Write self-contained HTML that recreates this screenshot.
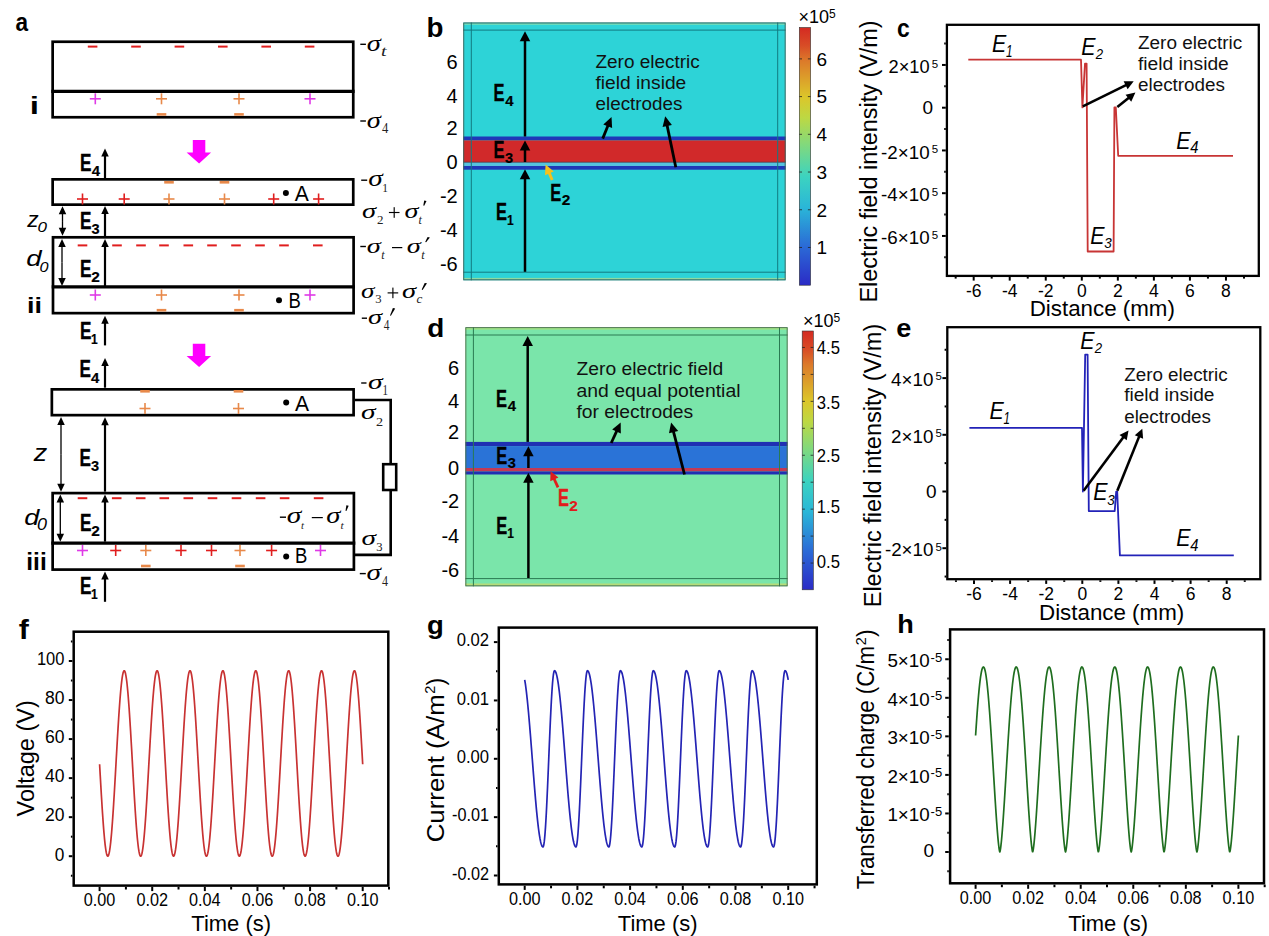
<!DOCTYPE html>
<html><head><meta charset="utf-8"><style>
html,body{margin:0;padding:0;background:#fff;width:1269px;height:936px;overflow:hidden}
svg{display:block}
</style></head><body>
<svg width="1269" height="936" viewBox="0 0 1269 936">
<rect width="1269" height="936" fill="#fff"/>
<text transform="translate(15.42,31.25) scale(0.889,1)" font-family="'Liberation Sans', sans-serif" font-style="normal" font-weight="bold" font-size="25.45" fill="#000">a</text>
<rect x="52.65" y="41.75" width="300.60" height="75.50" fill="none" stroke="#000" stroke-width="2.7"/>
<line x1="51.30" y1="91.35" x2="354.60" y2="91.35" stroke="#000" stroke-width="3.105" stroke-linecap="butt"/>
<rect x="87.80" y="45.60" width="9.60" height="2.00" fill="#e01e1e"/>
<rect x="131.20" y="45.60" width="9.60" height="2.00" fill="#e01e1e"/>
<rect x="174.60" y="45.60" width="9.60" height="2.00" fill="#e01e1e"/>
<rect x="218.00" y="45.60" width="9.60" height="2.00" fill="#e01e1e"/>
<rect x="261.40" y="45.60" width="9.60" height="2.00" fill="#e01e1e"/>
<rect x="304.80" y="45.60" width="9.60" height="2.00" fill="#e01e1e"/>
<rect x="89.80" y="98.00" width="11.00" height="1.60" fill="#df3ae6"/>
<rect x="94.50" y="93.30" width="1.60" height="11.00" fill="#df3ae6"/>
<rect x="156.00" y="98.00" width="11.00" height="1.60" fill="#e8894a"/>
<rect x="160.70" y="93.30" width="1.60" height="11.00" fill="#e8894a"/>
<rect x="233.50" y="98.00" width="11.00" height="1.60" fill="#e8894a"/>
<rect x="238.20" y="93.30" width="1.60" height="11.00" fill="#e8894a"/>
<rect x="304.50" y="98.00" width="11.00" height="1.60" fill="#df3ae6"/>
<rect x="309.20" y="93.30" width="1.60" height="11.00" fill="#df3ae6"/>
<rect x="156.70" y="113.10" width="9.60" height="2.60" fill="#e8894a"/>
<rect x="234.20" y="113.10" width="9.60" height="2.60" fill="#e8894a"/>
<text transform="translate(29.67,113.80) scale(1.438,1)" font-family="'Liberation Sans', sans-serif" font-style="normal" font-weight="bold" font-size="23.17" fill="#000">i</text>
<rect x="52.65" y="179.35" width="300.60" height="25.30" fill="none" stroke="#000" stroke-width="2.7"/>
<rect x="164.20" y="181.00" width="9.60" height="2.60" fill="#e8894a"/>
<rect x="219.70" y="181.00" width="9.60" height="2.60" fill="#e8894a"/>
<rect x="77.00" y="198.20" width="11.00" height="1.60" fill="#e01e1e"/>
<rect x="81.70" y="193.50" width="1.60" height="11.00" fill="#e01e1e"/>
<rect x="118.70" y="198.20" width="11.00" height="1.60" fill="#e01e1e"/>
<rect x="123.40" y="193.50" width="1.60" height="11.00" fill="#e01e1e"/>
<rect x="163.50" y="198.20" width="11.00" height="1.60" fill="#e8894a"/>
<rect x="168.20" y="193.50" width="1.60" height="11.00" fill="#e8894a"/>
<rect x="219.00" y="198.20" width="11.00" height="1.60" fill="#e8894a"/>
<rect x="223.70" y="193.50" width="1.60" height="11.00" fill="#e8894a"/>
<rect x="268.20" y="198.20" width="11.00" height="1.60" fill="#e01e1e"/>
<rect x="272.90" y="193.50" width="1.60" height="11.00" fill="#e01e1e"/>
<rect x="313.10" y="198.20" width="11.00" height="1.60" fill="#e01e1e"/>
<rect x="317.80" y="193.50" width="1.60" height="11.00" fill="#e01e1e"/>
<circle cx="285.9" cy="192.9" r="3" fill="#000"/>
<text transform="translate(294.79,200.80) scale(0.919,1)" font-family="'Liberation Sans', sans-serif" font-style="normal" font-weight="normal" font-size="22.92" fill="#000">A</text>
<rect x="53.00" y="237.30" width="300.60" height="75.85" fill="none" stroke="#000" stroke-width="2.7"/>
<line x1="51.70" y1="286.90" x2="355.00" y2="286.90" stroke="#000" stroke-width="3.105" stroke-linecap="butt"/>
<rect x="77.70" y="244.40" width="9.60" height="2.00" fill="#e01e1e"/>
<rect x="112.20" y="244.40" width="9.60" height="2.00" fill="#e01e1e"/>
<rect x="136.20" y="244.40" width="9.60" height="2.00" fill="#e01e1e"/>
<rect x="159.20" y="244.40" width="9.60" height="2.00" fill="#e01e1e"/>
<rect x="183.50" y="244.40" width="9.60" height="2.00" fill="#e01e1e"/>
<rect x="207.20" y="244.40" width="9.60" height="2.00" fill="#e01e1e"/>
<rect x="231.20" y="244.40" width="9.60" height="2.00" fill="#e01e1e"/>
<rect x="255.20" y="244.40" width="9.60" height="2.00" fill="#e01e1e"/>
<rect x="279.20" y="244.40" width="9.60" height="2.00" fill="#e01e1e"/>
<rect x="313.00" y="244.40" width="9.60" height="2.00" fill="#e01e1e"/>
<rect x="89.80" y="294.20" width="11.00" height="1.60" fill="#df3ae6"/>
<rect x="94.50" y="289.50" width="1.60" height="11.00" fill="#df3ae6"/>
<rect x="156.00" y="294.20" width="11.00" height="1.60" fill="#e8894a"/>
<rect x="160.70" y="289.50" width="1.60" height="11.00" fill="#e8894a"/>
<rect x="233.50" y="294.20" width="11.00" height="1.60" fill="#e8894a"/>
<rect x="238.20" y="289.50" width="1.60" height="11.00" fill="#e8894a"/>
<rect x="304.50" y="294.20" width="11.00" height="1.60" fill="#df3ae6"/>
<rect x="309.20" y="289.50" width="1.60" height="11.00" fill="#df3ae6"/>
<rect x="156.70" y="308.90" width="9.60" height="2.60" fill="#e8894a"/>
<rect x="234.20" y="308.90" width="9.60" height="2.60" fill="#e8894a"/>
<circle cx="279" cy="300.2" r="3" fill="#000"/>
<text transform="translate(288.42,308.10) scale(0.813,1)" font-family="'Liberation Sans', sans-serif" font-style="normal" font-weight="normal" font-size="22.75" fill="#000">B</text>
<text transform="translate(26.91,312.50) scale(1.223,1)" font-family="'Liberation Sans', sans-serif" font-style="normal" font-weight="bold" font-size="22.07" fill="#000">ii</text>
<rect x="51.85" y="389.35" width="301.75" height="25.80" fill="none" stroke="#000" stroke-width="2.7"/>
<rect x="140.20" y="390.00" width="9.60" height="2.60" fill="#e8894a"/>
<rect x="233.70" y="390.00" width="9.60" height="2.60" fill="#e8894a"/>
<rect x="139.50" y="407.70" width="11.00" height="1.60" fill="#e8894a"/>
<rect x="144.20" y="403.00" width="1.60" height="11.00" fill="#e8894a"/>
<rect x="233.00" y="407.70" width="11.00" height="1.60" fill="#e8894a"/>
<rect x="237.70" y="403.00" width="1.60" height="11.00" fill="#e8894a"/>
<circle cx="286.2" cy="402.4" r="3" fill="#000"/>
<text transform="translate(295.09,411.00) scale(0.919,1)" font-family="'Liberation Sans', sans-serif" font-style="normal" font-weight="normal" font-size="22.92" fill="#000">A</text>
<rect x="52.65" y="493.10" width="301.25" height="76.50" fill="none" stroke="#000" stroke-width="2.7"/>
<line x1="51.30" y1="543.15" x2="355.30" y2="543.15" stroke="#000" stroke-width="3.105" stroke-linecap="butt"/>
<rect x="77.70" y="497.20" width="9.60" height="2.00" fill="#e01e1e"/>
<rect x="111.90" y="497.20" width="9.60" height="2.00" fill="#e01e1e"/>
<rect x="135.90" y="497.20" width="9.60" height="2.00" fill="#e01e1e"/>
<rect x="159.50" y="497.20" width="9.60" height="2.00" fill="#e01e1e"/>
<rect x="183.50" y="497.20" width="9.60" height="2.00" fill="#e01e1e"/>
<rect x="207.70" y="497.20" width="9.60" height="2.00" fill="#e01e1e"/>
<rect x="231.70" y="497.20" width="9.60" height="2.00" fill="#e01e1e"/>
<rect x="255.80" y="497.20" width="9.60" height="2.00" fill="#e01e1e"/>
<rect x="279.80" y="497.20" width="9.60" height="2.00" fill="#e01e1e"/>
<rect x="313.80" y="497.20" width="9.60" height="2.00" fill="#e01e1e"/>
<rect x="77.00" y="549.70" width="11.00" height="1.60" fill="#df3ae6"/>
<rect x="81.70" y="545.00" width="1.60" height="11.00" fill="#df3ae6"/>
<rect x="110.20" y="549.70" width="11.00" height="1.60" fill="#e01e1e"/>
<rect x="114.90" y="545.00" width="1.60" height="11.00" fill="#e01e1e"/>
<rect x="140.30" y="549.70" width="11.00" height="1.60" fill="#e8894a"/>
<rect x="145.00" y="545.00" width="1.60" height="11.00" fill="#e8894a"/>
<rect x="175.50" y="549.70" width="11.00" height="1.60" fill="#e01e1e"/>
<rect x="180.20" y="545.00" width="1.60" height="11.00" fill="#e01e1e"/>
<rect x="206.00" y="549.70" width="11.00" height="1.60" fill="#e01e1e"/>
<rect x="210.70" y="545.00" width="1.60" height="11.00" fill="#e01e1e"/>
<rect x="234.50" y="549.70" width="11.00" height="1.60" fill="#e8894a"/>
<rect x="239.20" y="545.00" width="1.60" height="11.00" fill="#e8894a"/>
<rect x="266.10" y="549.70" width="11.00" height="1.60" fill="#e01e1e"/>
<rect x="270.80" y="545.00" width="1.60" height="11.00" fill="#e01e1e"/>
<rect x="315.00" y="549.70" width="11.00" height="1.60" fill="#df3ae6"/>
<rect x="319.70" y="545.00" width="1.60" height="11.00" fill="#df3ae6"/>
<rect x="141.00" y="564.70" width="9.60" height="2.60" fill="#e8894a"/>
<rect x="235.20" y="564.70" width="9.60" height="2.60" fill="#e8894a"/>
<circle cx="286.2" cy="556.6" r="3" fill="#000"/>
<text transform="translate(295.02,562.70) scale(0.813,1)" font-family="'Liberation Sans', sans-serif" font-style="normal" font-weight="normal" font-size="22.75" fill="#000">B</text>
<text transform="translate(26.29,569.80) scale(1.056,1)" font-family="'Liberation Sans', sans-serif" font-style="normal" font-weight="bold" font-size="23.17" fill="#000">iii</text>
<polyline points="355,400 390.7,400 390.7,463" fill="none" stroke="#000" stroke-width="2.6"/>
<polyline points="390.7,491 390.7,554.9 355,554.9" fill="none" stroke="#000" stroke-width="2.6"/>
<rect x="383.20" y="464.20" width="13.00" height="25.80" fill="none" stroke="#000" stroke-width="2.6"/>
<polygon points="192.8,140.1 205.3,140.1 205.3,152.4 211.1,152.4 199.1,163.4 186.6,152.4 192.8,152.4" fill="#ff00ff"/>
<polygon points="192.8,343.7 205.3,343.7 205.3,356.0 211.1,356.0 199.1,367.0 186.6,356.0 192.8,356.0" fill="#ff00ff"/>
<line x1="105.00" y1="178.00" x2="105.00" y2="155.40" stroke="#000" stroke-width="2.2" stroke-linecap="butt"/>
<polygon points="105.00,148.40 108.75,156.40 101.25,156.40" fill="#000"/>
<line x1="105.00" y1="236.00" x2="105.00" y2="213.00" stroke="#000" stroke-width="2.2" stroke-linecap="butt"/>
<polygon points="105.00,206.00 108.75,214.00 101.25,214.00" fill="#000"/>
<line x1="105.00" y1="287.00" x2="105.00" y2="246.00" stroke="#000" stroke-width="2.2" stroke-linecap="butt"/>
<polygon points="105.00,239.00 108.75,247.00 101.25,247.00" fill="#000"/>
<line x1="105.00" y1="345.40" x2="105.00" y2="322.70" stroke="#000" stroke-width="2.2" stroke-linecap="butt"/>
<polygon points="105.00,315.70 108.75,323.70 101.25,323.70" fill="#000"/>
<line x1="105.00" y1="387.70" x2="105.00" y2="365.00" stroke="#000" stroke-width="2.2" stroke-linecap="butt"/>
<polygon points="105.00,358.00 108.75,366.00 101.25,366.00" fill="#000"/>
<line x1="105.00" y1="491.70" x2="105.00" y2="424.30" stroke="#000" stroke-width="2.2" stroke-linecap="butt"/>
<polygon points="105.00,417.30 108.75,425.30 101.25,425.30" fill="#000"/>
<line x1="105.00" y1="541.70" x2="105.00" y2="501.50" stroke="#000" stroke-width="2.2" stroke-linecap="butt"/>
<polygon points="105.00,494.50 108.75,502.50 101.25,502.50" fill="#000"/>
<line x1="105.00" y1="601.80" x2="105.00" y2="578.40" stroke="#000" stroke-width="2.2" stroke-linecap="butt"/>
<polygon points="105.00,571.40 108.75,579.40 101.25,579.40" fill="#000"/>
<text transform="translate(80.08,170.80) scale(0.718,1)" font-family="'Liberation Sans', sans-serif" font-style="normal" font-weight="bold" font-size="23.91" fill="#000" stroke="#000" stroke-width="0.35">E</text>
<text transform="translate(91.78,176.00) scale(1.002,1)" font-family="'Liberation Sans', sans-serif" font-style="normal" font-weight="bold" font-size="14.93" fill="#000" stroke="#000" stroke-width="0.2">4</text>
<text transform="translate(79.88,229.40) scale(0.718,1)" font-family="'Liberation Sans', sans-serif" font-style="normal" font-weight="bold" font-size="23.91" fill="#000" stroke="#000" stroke-width="0.35">E</text>
<text transform="translate(91.44,234.45) scale(1.003,1)" font-family="'Liberation Sans', sans-serif" font-style="normal" font-weight="bold" font-size="14.51" fill="#000" stroke="#000" stroke-width="0.2">3</text>
<text transform="translate(79.88,276.50) scale(0.718,1)" font-family="'Liberation Sans', sans-serif" font-style="normal" font-weight="bold" font-size="23.91" fill="#000" stroke="#000" stroke-width="0.35">E</text>
<text transform="translate(91.26,281.70) scale(1.048,1)" font-family="'Liberation Sans', sans-serif" font-style="normal" font-weight="bold" font-size="14.71" fill="#000" stroke="#000" stroke-width="0.2">2</text>
<text transform="translate(79.88,339.00) scale(0.718,1)" font-family="'Liberation Sans', sans-serif" font-style="normal" font-weight="bold" font-size="23.91" fill="#000" stroke="#000" stroke-width="0.35">E</text>
<text transform="translate(91.02,344.20) scale(0.807,1)" font-family="'Liberation Sans', sans-serif" font-style="normal" font-weight="bold" font-size="14.93" fill="#000" stroke="#000" stroke-width="0.2">1</text>
<text transform="translate(79.38,377.30) scale(0.718,1)" font-family="'Liberation Sans', sans-serif" font-style="normal" font-weight="bold" font-size="23.91" fill="#000" stroke="#000" stroke-width="0.35">E</text>
<text transform="translate(91.08,382.50) scale(1.002,1)" font-family="'Liberation Sans', sans-serif" font-style="normal" font-weight="bold" font-size="14.93" fill="#000" stroke="#000" stroke-width="0.2">4</text>
<text transform="translate(79.38,466.00) scale(0.718,1)" font-family="'Liberation Sans', sans-serif" font-style="normal" font-weight="bold" font-size="23.91" fill="#000" stroke="#000" stroke-width="0.35">E</text>
<text transform="translate(90.94,471.05) scale(1.003,1)" font-family="'Liberation Sans', sans-serif" font-style="normal" font-weight="bold" font-size="14.51" fill="#000" stroke="#000" stroke-width="0.2">3</text>
<text transform="translate(79.88,530.50) scale(0.718,1)" font-family="'Liberation Sans', sans-serif" font-style="normal" font-weight="bold" font-size="23.91" fill="#000" stroke="#000" stroke-width="0.35">E</text>
<text transform="translate(91.26,535.70) scale(1.048,1)" font-family="'Liberation Sans', sans-serif" font-style="normal" font-weight="bold" font-size="14.71" fill="#000" stroke="#000" stroke-width="0.2">2</text>
<text transform="translate(79.88,593.80) scale(0.718,1)" font-family="'Liberation Sans', sans-serif" font-style="normal" font-weight="bold" font-size="23.91" fill="#000" stroke="#000" stroke-width="0.35">E</text>
<text transform="translate(91.02,599.00) scale(0.807,1)" font-family="'Liberation Sans', sans-serif" font-style="normal" font-weight="bold" font-size="14.93" fill="#000" stroke="#000" stroke-width="0.2">1</text>
<line x1="62.50" y1="221.05" x2="62.50" y2="213.30" stroke="#000" stroke-width="1.3" stroke-linecap="butt"/>
<polygon points="62.50,206.30 66.25,214.30 58.75,214.30" fill="#000"/>
<line x1="62.50" y1="221.05" x2="62.50" y2="228.80" stroke="#000" stroke-width="1.3" stroke-linecap="butt"/>
<polygon points="62.50,235.80 58.75,227.80 66.25,227.80" fill="#000"/>
<line x1="62.00" y1="262.50" x2="62.00" y2="246.00" stroke="#000" stroke-width="1.3" stroke-linecap="butt"/>
<polygon points="62.00,239.00 65.75,247.00 58.25,247.00" fill="#000"/>
<line x1="62.00" y1="262.50" x2="62.00" y2="279.00" stroke="#000" stroke-width="1.3" stroke-linecap="butt"/>
<polygon points="62.00,286.00 58.25,278.00 65.75,278.00" fill="#000"/>
<line x1="61.00" y1="454.35" x2="61.00" y2="424.00" stroke="#000" stroke-width="1.3" stroke-linecap="butt"/>
<polygon points="61.00,417.00 64.75,425.00 57.25,425.00" fill="#000"/>
<line x1="61.00" y1="454.35" x2="61.00" y2="484.70" stroke="#000" stroke-width="1.3" stroke-linecap="butt"/>
<polygon points="61.00,491.70 57.25,483.70 64.75,483.70" fill="#000"/>
<line x1="60.30" y1="518.10" x2="60.30" y2="501.50" stroke="#000" stroke-width="1.3" stroke-linecap="butt"/>
<polygon points="60.30,494.50 64.05,502.50 56.55,502.50" fill="#000"/>
<line x1="60.30" y1="518.10" x2="60.30" y2="534.70" stroke="#000" stroke-width="1.3" stroke-linecap="butt"/>
<polygon points="60.30,541.70 56.55,533.70 64.05,533.70" fill="#000"/>
<text transform="translate(27.21,226.80) scale(1.044,1)" font-family="'Liberation Sans', sans-serif" font-style="italic" font-weight="normal" font-size="21.89" fill="#000">z</text>
<text transform="translate(37.53,231.55) scale(1.152,1)" font-family="'Liberation Sans', sans-serif" font-style="italic" font-weight="normal" font-size="14.79" fill="#000">0</text>
<text transform="translate(26.14,266.47) scale(1.242,1)" font-family="'Liberation Sans', sans-serif" font-style="italic" font-weight="normal" font-size="22.16" fill="#000">d</text>
<text transform="translate(39.47,271.55) scale(1.067,1)" font-family="'Liberation Sans', sans-serif" font-style="italic" font-weight="normal" font-size="15.21" fill="#000">0</text>
<text transform="translate(33.83,461.30) scale(1.170,1)" font-family="'Liberation Sans', sans-serif" font-style="italic" font-weight="normal" font-size="23.02" fill="#000">z</text>
<text transform="translate(24.16,525.36) scale(1.195,1)" font-family="'Liberation Sans', sans-serif" font-style="italic" font-weight="normal" font-size="22.57" fill="#000">d</text>
<text transform="translate(36.99,530.14) scale(1.142,1)" font-family="'Liberation Sans', sans-serif" font-style="italic" font-weight="normal" font-size="15.77" fill="#000">0</text>
<rect x="360.30" y="43.60" width="5.60" height="1.40" fill="#000"/>
<text transform="translate(366.75,50.98) scale(1.267,1)" font-family="'Liberation Serif', serif" font-style="italic" font-weight="normal" font-size="22.48" fill="#000">σ</text>
<text transform="translate(381.10,55.75) scale(1.373,1)" font-family="'Liberation Serif', serif" font-style="italic" font-weight="normal" font-size="14.56" fill="#222">t</text>
<rect x="360.30" y="120.30" width="5.60" height="1.40" fill="#000"/>
<text transform="translate(366.75,127.88) scale(1.278,1)" font-family="'Liberation Serif', serif" font-style="italic" font-weight="normal" font-size="22.29" fill="#000">σ</text>
<text transform="translate(382.05,133.47) scale(0.937,1)" font-family="'Liberation Serif', serif" font-style="normal" font-weight="normal" font-size="13.54" fill="#222">4</text>
<rect x="361.20" y="179.50" width="6.00" height="1.40" fill="#000"/>
<text transform="translate(368.32,185.78) scale(1.326,1)" font-family="'Liberation Serif', serif" font-style="italic" font-weight="normal" font-size="22.10" fill="#000">σ</text>
<text transform="translate(382.27,192.00) scale(0.891,1)" font-family="'Liberation Serif', serif" font-style="normal" font-weight="normal" font-size="12.82" fill="#222">1</text>
<text transform="translate(361.95,218.29) scale(1.335,1)" font-family="'Liberation Serif', serif" font-style="italic" font-weight="normal" font-size="21.33" fill="#000">σ</text>
<text transform="translate(377.12,224.00) scale(0.986,1)" font-family="'Liberation Serif', serif" font-style="normal" font-weight="normal" font-size="13.18" fill="#222">2</text>
<rect x="388.90" y="211.93" width="10.60" height="1.15" fill="#000"/>
<rect x="393.62" y="207.20" width="1.15" height="10.60" fill="#000"/>
<text transform="translate(404.45,218.29) scale(1.326,1)" font-family="'Liberation Serif', serif" font-style="italic" font-weight="normal" font-size="21.33" fill="#000">σ</text>
<text transform="translate(418.46,223.88) scale(0.977,1)" font-family="'Liberation Serif', serif" font-style="italic" font-weight="normal" font-size="12.28" fill="#222">t</text>
<polygon points="424.20,200.50 426.50,200.90 424.20,205.70 423.30,205.40" fill="#000"/>
<rect x="360.30" y="245.80" width="5.60" height="1.40" fill="#000"/>
<text transform="translate(366.75,252.69) scale(1.347,1)" font-family="'Liberation Serif', serif" font-style="italic" font-weight="normal" font-size="21.14" fill="#000">σ</text>
<text transform="translate(381.16,258.68) scale(1.006,1)" font-family="'Liberation Serif', serif" font-style="italic" font-weight="normal" font-size="11.93" fill="#222">t</text>
<rect x="392.00" y="247.00" width="10.30" height="1.20" fill="#000"/>
<text transform="translate(406.75,252.69) scale(1.347,1)" font-family="'Liberation Serif', serif" font-style="italic" font-weight="normal" font-size="21.14" fill="#000">σ</text>
<text transform="translate(421.14,258.68) scale(1.039,1)" font-family="'Liberation Serif', serif" font-style="italic" font-weight="normal" font-size="11.93" fill="#222">t</text>
<polygon points="427.60,237.00 429.90,237.40 426.10,242.30 425.20,242.00" fill="#000"/>
<text transform="translate(360.98,298.00) scale(1.351,1)" font-family="'Liberation Serif', serif" font-style="italic" font-weight="normal" font-size="20.19" fill="#000">σ</text>
<text transform="translate(375.27,303.27) scale(0.955,1)" font-family="'Liberation Serif', serif" font-style="normal" font-weight="normal" font-size="13.28" fill="#222">3</text>
<rect x="387.60" y="292.32" width="10.60" height="1.15" fill="#000"/>
<rect x="392.32" y="287.60" width="1.15" height="10.60" fill="#000"/>
<text transform="translate(402.05,298.00) scale(1.411,1)" font-family="'Liberation Serif', serif" font-style="italic" font-weight="normal" font-size="20.19" fill="#000">σ</text>
<text transform="translate(416.61,303.27) scale(0.981,1)" font-family="'Liberation Serif', serif" font-style="italic" font-weight="normal" font-size="13.33" fill="#222">c</text>
<polygon points="424.70,282.90 427.00,283.30 422.60,289.90 421.70,289.60" fill="#000"/>
<rect x="361.80" y="317.50" width="5.20" height="1.40" fill="#000"/>
<text transform="translate(367.95,323.79) scale(1.335,1)" font-family="'Liberation Serif', serif" font-style="italic" font-weight="normal" font-size="21.33" fill="#000">σ</text>
<text transform="translate(383.87,329.97) scale(0.788,1)" font-family="'Liberation Serif', serif" font-style="normal" font-weight="normal" font-size="14.46" fill="#222">4</text>
<polygon points="392.90,308.10 395.20,308.50 390.90,315.80 390.00,315.50" fill="#000"/>
<rect x="361.20" y="382.30" width="5.30" height="1.40" fill="#000"/>
<text transform="translate(367.91,389.19) scale(1.392,1)" font-family="'Liberation Serif', serif" font-style="italic" font-weight="normal" font-size="21.33" fill="#000">σ</text>
<text transform="translate(382.42,395.30) scale(0.765,1)" font-family="'Liberation Serif', serif" font-style="normal" font-weight="normal" font-size="14.20" fill="#222">1</text>
<text transform="translate(360.92,419.19) scale(1.383,1)" font-family="'Liberation Serif', serif" font-style="italic" font-weight="normal" font-size="21.33" fill="#000">σ</text>
<text transform="translate(375.96,425.80) scale(1.069,1)" font-family="'Liberation Serif', serif" font-style="normal" font-weight="normal" font-size="13.33" fill="#222">2</text>
<text transform="translate(361.52,544.98) scale(1.337,1)" font-family="'Liberation Serif', serif" font-style="italic" font-weight="normal" font-size="21.90" fill="#000">σ</text>
<text transform="translate(376.37,550.87) scale(0.944,1)" font-family="'Liberation Serif', serif" font-style="normal" font-weight="normal" font-size="13.43" fill="#222">3</text>
<rect x="359.80" y="572.90" width="6.00" height="1.40" fill="#000"/>
<text transform="translate(366.62,580.08) scale(1.326,1)" font-family="'Liberation Serif', serif" font-style="italic" font-weight="normal" font-size="22.10" fill="#000">σ</text>
<text transform="translate(381.96,586.07) scale(0.870,1)" font-family="'Liberation Serif', serif" font-style="normal" font-weight="normal" font-size="13.85" fill="#222">4</text>
<rect x="279.90" y="516.50" width="6.10" height="1.40" fill="#000"/>
<text transform="translate(286.82,523.18) scale(1.323,1)" font-family="'Liberation Serif', serif" font-style="italic" font-weight="normal" font-size="22.29" fill="#000">σ</text>
<text transform="translate(301.11,528.59) scale(0.947,1)" font-family="'Liberation Serif', serif" font-style="italic" font-weight="normal" font-size="11.40" fill="#222">t</text>
<rect x="311.80" y="517.00" width="11.00" height="1.20" fill="#000"/>
<text transform="translate(326.24,523.18) scale(1.287,1)" font-family="'Liberation Serif', serif" font-style="italic" font-weight="normal" font-size="22.29" fill="#000">σ</text>
<text transform="translate(340.38,528.59) scale(1.017,1)" font-family="'Liberation Serif', serif" font-style="italic" font-weight="normal" font-size="11.40" fill="#222">t</text>
<polygon points="346.40,505.30 348.70,505.70 346.40,511.00 345.50,510.70" fill="#000"/>
<text transform="translate(426.60,37.22) scale(0.999,1)" font-family="'Liberation Sans', sans-serif" font-style="normal" font-weight="bold" font-size="27.76" fill="#000">b</text>
<rect x="463.30" y="22.50" width="322.30" height="257.80" fill="#2dd3d7"/>
<rect x="463.30" y="23.30" width="322.30" height="1.60" fill="#6fdcb8"/>
<rect x="463.30" y="277.90" width="322.30" height="1.60" fill="#8fd9a0"/>
<rect x="463.30" y="136.50" width="322.30" height="3.90" fill="#1f38b8"/>
<rect x="463.30" y="140.40" width="322.30" height="21.60" fill="#d1292a"/>
<rect x="463.30" y="162.00" width="322.30" height="4.00" fill="#55c2df"/>
<rect x="463.30" y="166.00" width="322.30" height="3.70" fill="#1f38b8"/>
<line x1="463.30" y1="162.20" x2="785.60" y2="162.20" stroke="#5a3a48" stroke-width="0.9" stroke-linecap="butt"/>
<line x1="463.30" y1="30.10" x2="785.60" y2="30.10" stroke="#127a80" stroke-width="1" stroke-linecap="butt"/>
<line x1="463.30" y1="272.20" x2="785.60" y2="272.20" stroke="#127a80" stroke-width="1" stroke-linecap="butt"/>
<line x1="471.30" y1="22.50" x2="471.30" y2="280.30" stroke="#127a80" stroke-width="1" stroke-linecap="butt"/>
<line x1="777.70" y1="22.50" x2="777.70" y2="280.30" stroke="#127a80" stroke-width="1" stroke-linecap="butt"/>
<rect x="463.75" y="22.95" width="321.40" height="256.90" fill="none" stroke="#3e5e56" stroke-width="0.9"/>
<text x="457.70" y="68.90" font-size="20" fill="#000" font-family="'Liberation Sans', sans-serif" text-anchor="end">6</text>
<text x="457.70" y="102.60" font-size="20" fill="#000" font-family="'Liberation Sans', sans-serif" text-anchor="end">4</text>
<text x="457.70" y="134.60" font-size="20" fill="#000" font-family="'Liberation Sans', sans-serif" text-anchor="end">2</text>
<text x="457.70" y="168.50" font-size="20" fill="#000" font-family="'Liberation Sans', sans-serif" text-anchor="end">0</text>
<text x="457.70" y="203.00" font-size="20" fill="#000" font-family="'Liberation Sans', sans-serif" text-anchor="end">-2</text>
<text x="457.70" y="237.40" font-size="20" fill="#000" font-family="'Liberation Sans', sans-serif" text-anchor="end">-4</text>
<text x="457.70" y="271.00" font-size="20" fill="#000" font-family="'Liberation Sans', sans-serif" text-anchor="end">-6</text>
<line x1="525.00" y1="136.50" x2="525.00" y2="40.20" stroke="#000" stroke-width="2.5" stroke-linecap="butt"/>
<polygon points="525.00,31.20 530.25,41.20 519.75,41.20" fill="#000"/>
<line x1="525.00" y1="162.00" x2="525.00" y2="149.40" stroke="#000" stroke-width="2.5" stroke-linecap="butt"/>
<polygon points="525.00,140.40 530.25,150.40 519.75,150.40" fill="#000"/>
<line x1="525.00" y1="271.80" x2="525.00" y2="178.30" stroke="#000" stroke-width="2.5" stroke-linecap="butt"/>
<polygon points="525.00,169.30 530.25,179.30 519.75,179.30" fill="#000"/>
<text transform="translate(493.43,101.00) scale(0.710,1)" font-family="'Liberation Sans', sans-serif" font-style="normal" font-weight="bold" font-size="23.19" fill="#000" stroke="#000" stroke-width="0.35">E</text>
<text transform="translate(505.18,105.80) scale(0.983,1)" font-family="'Liberation Sans', sans-serif" font-style="normal" font-weight="bold" font-size="15.22" fill="#000" stroke="#000" stroke-width="0.2">4</text>
<text transform="translate(493.43,158.00) scale(0.710,1)" font-family="'Liberation Sans', sans-serif" font-style="normal" font-weight="bold" font-size="23.19" fill="#000" stroke="#000" stroke-width="0.35">E</text>
<text transform="translate(505.04,162.65) scale(0.984,1)" font-family="'Liberation Sans', sans-serif" font-style="normal" font-weight="bold" font-size="14.79" fill="#000" stroke="#000" stroke-width="0.2">3</text>
<text transform="translate(495.93,219.70) scale(0.710,1)" font-family="'Liberation Sans', sans-serif" font-style="normal" font-weight="bold" font-size="23.19" fill="#000" stroke="#000" stroke-width="0.35">E</text>
<text transform="translate(507.12,224.50) scale(0.791,1)" font-family="'Liberation Sans', sans-serif" font-style="normal" font-weight="bold" font-size="15.22" fill="#000" stroke="#000" stroke-width="0.2">1</text>
<text transform="translate(550.33,200.50) scale(0.710,1)" font-family="'Liberation Sans', sans-serif" font-style="normal" font-weight="bold" font-size="23.19" fill="#000" stroke="#000" stroke-width="0.35">E</text>
<text transform="translate(561.76,205.30) scale(1.028,1)" font-family="'Liberation Sans', sans-serif" font-style="normal" font-weight="bold" font-size="15.00" fill="#000" stroke="#000" stroke-width="0.2">2</text>
<line x1="552.20" y1="180.00" x2="548.95" y2="172.41" stroke="#f5c11c" stroke-width="2.9" stroke-linecap="butt"/>
<polygon points="545.60,164.60 553.71,171.46 544.98,175.20" fill="#f5c11c"/>
<text x="595.50" y="68.10" font-size="17.5" fill="#111" font-family="'Liberation Sans', sans-serif" textLength="104.30" lengthAdjust="spacingAndGlyphs">Zero electric</text>
<text x="595.50" y="88.80" font-size="17.5" fill="#111" font-family="'Liberation Sans', sans-serif" textLength="90.80" lengthAdjust="spacingAndGlyphs">field inside</text>
<text x="595.50" y="110.00" font-size="17.5" fill="#111" font-family="'Liberation Sans', sans-serif" textLength="87.00" lengthAdjust="spacingAndGlyphs">electrodes</text>
<line x1="602.70" y1="138.60" x2="608.10" y2="125.33" stroke="#000" stroke-width="2.8" stroke-linecap="butt"/>
<polygon points="611.50,117.00 612.13,128.05 603.33,124.47" fill="#000"/>
<line x1="675.80" y1="167.30" x2="667.03" y2="125.11" stroke="#000" stroke-width="2.8" stroke-linecap="butt"/>
<polygon points="665.20,116.30 671.89,125.12 662.58,127.06" fill="#000"/>
<defs><linearGradient id="cm1" x1="0" y1="0" x2="0" y2="1"><stop offset="0.000" stop-color="#d42a22"/><stop offset="0.070" stop-color="#d84c26"/><stop offset="0.130" stop-color="#dc7a2a"/><stop offset="0.270" stop-color="#dcc62a"/><stop offset="0.350" stop-color="#bdd843"/><stop offset="0.450" stop-color="#84d97a"/><stop offset="0.580" stop-color="#3cd3c0"/><stop offset="0.700" stop-color="#2ab6d8"/><stop offset="0.850" stop-color="#2b6ad6"/><stop offset="1.000" stop-color="#2b2bc6"/></linearGradient></defs>
<rect x="799.30" y="27.50" width="11.30" height="257.70" fill="url(#cm1)" stroke="#333" stroke-width="0.6"/>
<line x1="799.30" y1="247.48" x2="802.00" y2="247.48" stroke="#222" stroke-width="0.8" stroke-linecap="butt"/>
<line x1="807.90" y1="247.48" x2="810.60" y2="247.48" stroke="#222" stroke-width="0.8" stroke-linecap="butt"/>
<text x="816.50" y="254.28" font-size="19" fill="#000" font-family="'Liberation Sans', sans-serif">1</text>
<line x1="799.30" y1="209.76" x2="802.00" y2="209.76" stroke="#222" stroke-width="0.8" stroke-linecap="butt"/>
<line x1="807.90" y1="209.76" x2="810.60" y2="209.76" stroke="#222" stroke-width="0.8" stroke-linecap="butt"/>
<text x="816.50" y="216.56" font-size="19" fill="#000" font-family="'Liberation Sans', sans-serif">2</text>
<line x1="799.30" y1="172.04" x2="802.00" y2="172.04" stroke="#222" stroke-width="0.8" stroke-linecap="butt"/>
<line x1="807.90" y1="172.04" x2="810.60" y2="172.04" stroke="#222" stroke-width="0.8" stroke-linecap="butt"/>
<text x="816.50" y="178.84" font-size="19" fill="#000" font-family="'Liberation Sans', sans-serif">3</text>
<line x1="799.30" y1="134.32" x2="802.00" y2="134.32" stroke="#222" stroke-width="0.8" stroke-linecap="butt"/>
<line x1="807.90" y1="134.32" x2="810.60" y2="134.32" stroke="#222" stroke-width="0.8" stroke-linecap="butt"/>
<text x="816.50" y="141.12" font-size="19" fill="#000" font-family="'Liberation Sans', sans-serif">4</text>
<line x1="799.30" y1="96.60" x2="802.00" y2="96.60" stroke="#222" stroke-width="0.8" stroke-linecap="butt"/>
<line x1="807.90" y1="96.60" x2="810.60" y2="96.60" stroke="#222" stroke-width="0.8" stroke-linecap="butt"/>
<text x="816.50" y="103.40" font-size="19" fill="#000" font-family="'Liberation Sans', sans-serif">5</text>
<line x1="799.30" y1="58.88" x2="802.00" y2="58.88" stroke="#222" stroke-width="0.8" stroke-linecap="butt"/>
<line x1="807.90" y1="58.88" x2="810.60" y2="58.88" stroke="#222" stroke-width="0.8" stroke-linecap="butt"/>
<text x="816.50" y="65.68" font-size="19" fill="#000" font-family="'Liberation Sans', sans-serif">6</text>
<text x="798.50" y="23.00" font-size="18" fill="#000" font-family="'Liberation Sans', sans-serif">×10</text>
<text x="829.00" y="18.30" font-size="12" fill="#000" font-family="'Liberation Sans', sans-serif">5</text>
<text transform="translate(427.18,337.44) scale(1.063,1)" font-family="'Liberation Sans', sans-serif" font-style="normal" font-weight="bold" font-size="26.26" fill="#000">d</text>
<rect x="465.40" y="327.20" width="322.20" height="259.10" fill="#7ae5aa"/>
<rect x="465.40" y="328.00" width="322.20" height="1.70" fill="#9fe286"/>
<rect x="465.40" y="583.50" width="322.20" height="2.00" fill="#b5db78"/>
<rect x="465.40" y="441.90" width="322.20" height="4.20" fill="#1f30b3"/>
<rect x="465.40" y="446.10" width="322.20" height="21.90" fill="#2a73d7"/>
<rect x="465.40" y="468.00" width="322.20" height="3.40" fill="#c33a55"/>
<rect x="465.40" y="471.40" width="322.20" height="3.10" fill="#1f30b3"/>
<line x1="465.40" y1="335.00" x2="787.60" y2="335.00" stroke="#2a7a52" stroke-width="1" stroke-linecap="butt"/>
<line x1="465.40" y1="578.60" x2="787.60" y2="578.60" stroke="#2a7a52" stroke-width="1" stroke-linecap="butt"/>
<line x1="473.40" y1="327.20" x2="473.40" y2="586.30" stroke="#2a7a52" stroke-width="1" stroke-linecap="butt"/>
<line x1="779.50" y1="327.20" x2="779.50" y2="586.30" stroke="#2a7a52" stroke-width="1" stroke-linecap="butt"/>
<rect x="465.85" y="327.65" width="321.30" height="258.20" fill="none" stroke="#4e6a48" stroke-width="0.9"/>
<text x="459.20" y="374.50" font-size="20" fill="#000" font-family="'Liberation Sans', sans-serif" text-anchor="end">6</text>
<text x="459.20" y="408.20" font-size="20" fill="#000" font-family="'Liberation Sans', sans-serif" text-anchor="end">4</text>
<text x="459.20" y="439.40" font-size="20" fill="#000" font-family="'Liberation Sans', sans-serif" text-anchor="end">2</text>
<text x="459.20" y="474.50" font-size="20" fill="#000" font-family="'Liberation Sans', sans-serif" text-anchor="end">0</text>
<text x="459.20" y="508.00" font-size="20" fill="#000" font-family="'Liberation Sans', sans-serif" text-anchor="end">-2</text>
<text x="459.20" y="542.60" font-size="20" fill="#000" font-family="'Liberation Sans', sans-serif" text-anchor="end">-4</text>
<text x="459.20" y="577.10" font-size="20" fill="#000" font-family="'Liberation Sans', sans-serif" text-anchor="end">-6</text>
<line x1="527.70" y1="441.90" x2="527.70" y2="345.00" stroke="#000" stroke-width="2.5" stroke-linecap="butt"/>
<polygon points="527.70,336.00 532.95,346.00 522.45,346.00" fill="#000"/>
<line x1="528.40" y1="468.00" x2="528.40" y2="455.30" stroke="#000" stroke-width="2.5" stroke-linecap="butt"/>
<polygon points="528.40,446.30 533.65,456.30 523.15,456.30" fill="#000"/>
<line x1="528.40" y1="578.00" x2="528.40" y2="481.70" stroke="#000" stroke-width="2.5" stroke-linecap="butt"/>
<polygon points="528.40,472.70 533.65,482.70 523.15,482.70" fill="#000"/>
<text transform="translate(495.93,406.60) scale(0.710,1)" font-family="'Liberation Sans', sans-serif" font-style="normal" font-weight="bold" font-size="23.19" fill="#000" stroke="#000" stroke-width="0.35">E</text>
<text transform="translate(507.68,411.40) scale(0.983,1)" font-family="'Liberation Sans', sans-serif" font-style="normal" font-weight="bold" font-size="15.22" fill="#000" stroke="#000" stroke-width="0.2">4</text>
<text transform="translate(496.13,463.60) scale(0.710,1)" font-family="'Liberation Sans', sans-serif" font-style="normal" font-weight="bold" font-size="23.19" fill="#000" stroke="#000" stroke-width="0.35">E</text>
<text transform="translate(507.74,468.25) scale(0.984,1)" font-family="'Liberation Sans', sans-serif" font-style="normal" font-weight="bold" font-size="14.79" fill="#000" stroke="#000" stroke-width="0.2">3</text>
<text transform="translate(496.13,533.50) scale(0.710,1)" font-family="'Liberation Sans', sans-serif" font-style="normal" font-weight="bold" font-size="23.19" fill="#000" stroke="#000" stroke-width="0.35">E</text>
<text transform="translate(507.32,538.30) scale(0.791,1)" font-family="'Liberation Sans', sans-serif" font-style="normal" font-weight="bold" font-size="15.22" fill="#000" stroke="#000" stroke-width="0.2">1</text>
<text transform="translate(557.93,506.30) scale(0.710,1)" font-family="'Liberation Sans', sans-serif" font-style="normal" font-weight="bold" font-size="23.19" fill="#e01c1c" stroke="#e01c1c" stroke-width="0.35">E</text>
<text transform="translate(569.36,511.10) scale(1.028,1)" font-family="'Liberation Sans', sans-serif" font-style="normal" font-weight="bold" font-size="15.00" fill="#e01c1c" stroke="#e01c1c" stroke-width="0.2">2</text>
<line x1="558.00" y1="487.40" x2="553.92" y2="478.48" stroke="#e01c1c" stroke-width="2.8" stroke-linecap="butt"/>
<polygon points="550.60,471.20 558.43,477.52 550.25,481.26" fill="#e01c1c"/>
<text x="576.50" y="374.70" font-size="17.5" fill="#111" font-family="'Liberation Sans', sans-serif" textLength="146.60" lengthAdjust="spacingAndGlyphs">Zero electric field</text>
<text x="576.50" y="396.50" font-size="17.5" fill="#111" font-family="'Liberation Sans', sans-serif" textLength="164.00" lengthAdjust="spacingAndGlyphs">and equal potential</text>
<text x="576.50" y="417.80" font-size="17.5" fill="#111" font-family="'Liberation Sans', sans-serif" textLength="116.70" lengthAdjust="spacingAndGlyphs">for electrodes</text>
<line x1="611.20" y1="443.00" x2="616.92" y2="430.67" stroke="#000" stroke-width="2.8" stroke-linecap="butt"/>
<polygon points="620.70,422.50 620.81,433.57 612.19,429.58" fill="#000"/>
<line x1="684.50" y1="474.50" x2="673.35" y2="431.22" stroke="#000" stroke-width="2.8" stroke-linecap="butt"/>
<polygon points="671.10,422.50 678.20,431.00 669.00,433.37" fill="#000"/>
<rect x="802.20" y="331.00" width="11.10" height="258.80" fill="url(#cm1)" stroke="#333" stroke-width="0.6"/>
<line x1="802.20" y1="563.05" x2="804.90" y2="563.05" stroke="#222" stroke-width="0.8" stroke-linecap="butt"/>
<line x1="810.60" y1="563.05" x2="813.30" y2="563.05" stroke="#222" stroke-width="0.8" stroke-linecap="butt"/>
<line x1="802.20" y1="536.10" x2="804.90" y2="536.10" stroke="#222" stroke-width="0.8" stroke-linecap="butt"/>
<line x1="810.60" y1="536.10" x2="813.30" y2="536.10" stroke="#222" stroke-width="0.8" stroke-linecap="butt"/>
<line x1="802.20" y1="509.15" x2="804.90" y2="509.15" stroke="#222" stroke-width="0.8" stroke-linecap="butt"/>
<line x1="810.60" y1="509.15" x2="813.30" y2="509.15" stroke="#222" stroke-width="0.8" stroke-linecap="butt"/>
<line x1="802.20" y1="482.20" x2="804.90" y2="482.20" stroke="#222" stroke-width="0.8" stroke-linecap="butt"/>
<line x1="810.60" y1="482.20" x2="813.30" y2="482.20" stroke="#222" stroke-width="0.8" stroke-linecap="butt"/>
<line x1="802.20" y1="455.25" x2="804.90" y2="455.25" stroke="#222" stroke-width="0.8" stroke-linecap="butt"/>
<line x1="810.60" y1="455.25" x2="813.30" y2="455.25" stroke="#222" stroke-width="0.8" stroke-linecap="butt"/>
<line x1="802.20" y1="428.30" x2="804.90" y2="428.30" stroke="#222" stroke-width="0.8" stroke-linecap="butt"/>
<line x1="810.60" y1="428.30" x2="813.30" y2="428.30" stroke="#222" stroke-width="0.8" stroke-linecap="butt"/>
<line x1="802.20" y1="401.35" x2="804.90" y2="401.35" stroke="#222" stroke-width="0.8" stroke-linecap="butt"/>
<line x1="810.60" y1="401.35" x2="813.30" y2="401.35" stroke="#222" stroke-width="0.8" stroke-linecap="butt"/>
<line x1="802.20" y1="374.40" x2="804.90" y2="374.40" stroke="#222" stroke-width="0.8" stroke-linecap="butt"/>
<line x1="810.60" y1="374.40" x2="813.30" y2="374.40" stroke="#222" stroke-width="0.8" stroke-linecap="butt"/>
<line x1="802.20" y1="347.45" x2="804.90" y2="347.45" stroke="#222" stroke-width="0.8" stroke-linecap="butt"/>
<line x1="810.60" y1="347.45" x2="813.30" y2="347.45" stroke="#222" stroke-width="0.8" stroke-linecap="butt"/>
<text x="816.80" y="353.60" font-size="18.5" fill="#000" font-family="'Liberation Sans', sans-serif" textLength="23.20" lengthAdjust="spacingAndGlyphs">4.5</text>
<text x="816.80" y="408.60" font-size="18.5" fill="#000" font-family="'Liberation Sans', sans-serif" textLength="23.20" lengthAdjust="spacingAndGlyphs">3.5</text>
<text x="816.80" y="462.40" font-size="18.5" fill="#000" font-family="'Liberation Sans', sans-serif" textLength="23.20" lengthAdjust="spacingAndGlyphs">2.5</text>
<text x="816.80" y="513.20" font-size="18.5" fill="#000" font-family="'Liberation Sans', sans-serif" textLength="23.20" lengthAdjust="spacingAndGlyphs">1.5</text>
<text x="816.80" y="568.00" font-size="18.5" fill="#000" font-family="'Liberation Sans', sans-serif" textLength="23.20" lengthAdjust="spacingAndGlyphs">0.5</text>
<text x="803.00" y="327.00" font-size="18" fill="#000" font-family="'Liberation Sans', sans-serif">×10</text>
<text x="833.50" y="322.30" font-size="12" fill="#000" font-family="'Liberation Sans', sans-serif">5</text>
<text transform="translate(897.08,37.14) scale(0.886,1)" font-family="'Liberation Sans', sans-serif" font-style="normal" font-weight="bold" font-size="25.82" fill="#000">c</text>
<rect x="946.90" y="24.80" width="311.90" height="251.10" fill="none" stroke="#000" stroke-width="2.3"/>
<line x1="942.00" y1="64.95" x2="945.80" y2="64.95" stroke="#000" stroke-width="2.0" stroke-linecap="butt"/>
<line x1="942.00" y1="107.70" x2="945.80" y2="107.70" stroke="#000" stroke-width="2.0" stroke-linecap="butt"/>
<line x1="942.00" y1="150.45" x2="945.80" y2="150.45" stroke="#000" stroke-width="2.0" stroke-linecap="butt"/>
<line x1="942.00" y1="193.20" x2="945.80" y2="193.20" stroke="#000" stroke-width="2.0" stroke-linecap="butt"/>
<line x1="942.00" y1="235.95" x2="945.80" y2="235.95" stroke="#000" stroke-width="2.0" stroke-linecap="butt"/>
<line x1="944.20" y1="43.58" x2="945.80" y2="43.58" stroke="#000" stroke-width="2.0" stroke-linecap="butt"/>
<line x1="944.20" y1="86.33" x2="945.80" y2="86.33" stroke="#000" stroke-width="2.0" stroke-linecap="butt"/>
<line x1="944.20" y1="129.07" x2="945.80" y2="129.07" stroke="#000" stroke-width="2.0" stroke-linecap="butt"/>
<line x1="944.20" y1="171.82" x2="945.80" y2="171.82" stroke="#000" stroke-width="2.0" stroke-linecap="butt"/>
<line x1="944.20" y1="214.57" x2="945.80" y2="214.57" stroke="#000" stroke-width="2.0" stroke-linecap="butt"/>
<line x1="944.20" y1="257.32" x2="945.80" y2="257.32" stroke="#000" stroke-width="2.0" stroke-linecap="butt"/>
<line x1="973.68" y1="277.00" x2="973.68" y2="280.60" stroke="#000" stroke-width="2.0" stroke-linecap="butt"/>
<line x1="1009.72" y1="277.00" x2="1009.72" y2="280.60" stroke="#000" stroke-width="2.0" stroke-linecap="butt"/>
<line x1="1045.76" y1="277.00" x2="1045.76" y2="280.60" stroke="#000" stroke-width="2.0" stroke-linecap="butt"/>
<line x1="1081.80" y1="277.00" x2="1081.80" y2="280.60" stroke="#000" stroke-width="2.0" stroke-linecap="butt"/>
<line x1="1117.84" y1="277.00" x2="1117.84" y2="280.60" stroke="#000" stroke-width="2.0" stroke-linecap="butt"/>
<line x1="1153.88" y1="277.00" x2="1153.88" y2="280.60" stroke="#000" stroke-width="2.0" stroke-linecap="butt"/>
<line x1="1189.92" y1="277.00" x2="1189.92" y2="280.60" stroke="#000" stroke-width="2.0" stroke-linecap="butt"/>
<line x1="1225.96" y1="277.00" x2="1225.96" y2="280.60" stroke="#000" stroke-width="2.0" stroke-linecap="butt"/>
<line x1="955.66" y1="277.00" x2="955.66" y2="278.60" stroke="#000" stroke-width="2.0" stroke-linecap="butt"/>
<line x1="991.70" y1="277.00" x2="991.70" y2="278.60" stroke="#000" stroke-width="2.0" stroke-linecap="butt"/>
<line x1="1027.74" y1="277.00" x2="1027.74" y2="278.60" stroke="#000" stroke-width="2.0" stroke-linecap="butt"/>
<line x1="1063.78" y1="277.00" x2="1063.78" y2="278.60" stroke="#000" stroke-width="2.0" stroke-linecap="butt"/>
<line x1="1099.82" y1="277.00" x2="1099.82" y2="278.60" stroke="#000" stroke-width="2.0" stroke-linecap="butt"/>
<line x1="1135.86" y1="277.00" x2="1135.86" y2="278.60" stroke="#000" stroke-width="2.0" stroke-linecap="butt"/>
<line x1="1171.90" y1="277.00" x2="1171.90" y2="278.60" stroke="#000" stroke-width="2.0" stroke-linecap="butt"/>
<line x1="1207.94" y1="277.00" x2="1207.94" y2="278.60" stroke="#000" stroke-width="2.0" stroke-linecap="butt"/>
<line x1="1243.98" y1="277.00" x2="1243.98" y2="278.60" stroke="#000" stroke-width="2.0" stroke-linecap="butt"/>
<text x="929.60" y="73.15" font-size="19" fill="#000" font-family="'Liberation Sans', sans-serif" text-anchor="end" textLength="41.10" lengthAdjust="spacingAndGlyphs">2×10</text>
<text x="931.80" y="67.55" font-size="11.5" fill="#000" font-family="'Liberation Sans', sans-serif">5</text>
<text x="929.60" y="158.65" font-size="19" fill="#000" font-family="'Liberation Sans', sans-serif" text-anchor="end" textLength="48.50" lengthAdjust="spacingAndGlyphs">-2×10</text>
<text x="931.80" y="153.05" font-size="11.5" fill="#000" font-family="'Liberation Sans', sans-serif">5</text>
<text x="929.60" y="201.40" font-size="19" fill="#000" font-family="'Liberation Sans', sans-serif" text-anchor="end" textLength="48.50" lengthAdjust="spacingAndGlyphs">-4×10</text>
<text x="931.80" y="195.80" font-size="11.5" fill="#000" font-family="'Liberation Sans', sans-serif">5</text>
<text x="929.60" y="244.15" font-size="19" fill="#000" font-family="'Liberation Sans', sans-serif" text-anchor="end" textLength="48.50" lengthAdjust="spacingAndGlyphs">-6×10</text>
<text x="931.80" y="238.55" font-size="11.5" fill="#000" font-family="'Liberation Sans', sans-serif">5</text>
<text x="933.20" y="114.30" font-size="19" fill="#000" font-family="'Liberation Sans', sans-serif" text-anchor="end">0</text>
<text x="973.68" y="296.50" font-size="17.5" fill="#000" font-family="'Liberation Sans', sans-serif" text-anchor="middle">-6</text>
<text x="1009.72" y="296.50" font-size="17.5" fill="#000" font-family="'Liberation Sans', sans-serif" text-anchor="middle">-4</text>
<text x="1045.76" y="296.50" font-size="17.5" fill="#000" font-family="'Liberation Sans', sans-serif" text-anchor="middle">-2</text>
<text x="1081.80" y="296.50" font-size="17.5" fill="#000" font-family="'Liberation Sans', sans-serif" text-anchor="middle">0</text>
<text x="1117.84" y="296.50" font-size="17.5" fill="#000" font-family="'Liberation Sans', sans-serif" text-anchor="middle">2</text>
<text x="1153.88" y="296.50" font-size="17.5" fill="#000" font-family="'Liberation Sans', sans-serif" text-anchor="middle">4</text>
<text x="1189.92" y="296.50" font-size="17.5" fill="#000" font-family="'Liberation Sans', sans-serif" text-anchor="middle">6</text>
<text x="1225.96" y="296.50" font-size="17.5" fill="#000" font-family="'Liberation Sans', sans-serif" text-anchor="middle">8</text>
<text x="1029.70" y="316.20" font-size="22.5" fill="#000" font-family="'Liberation Sans', sans-serif" textLength="145.20" lengthAdjust="spacingAndGlyphs">Distance (mm)</text>
<text transform="translate(877.40,161.50) rotate(-90)" text-anchor="middle" font-family="'Liberation Sans', sans-serif" font-size="23" textLength="282.20" lengthAdjust="spacingAndGlyphs">Electric field intensity (V/m)</text>
<polyline points="968.30,59.70 1081.00,59.70 1082.40,107.40 1085.00,63.60 1086.60,63.60 1087.70,251.50 1113.60,251.50 1114.40,107.40 1115.80,107.40 1118.20,155.80 1233.00,155.80" fill="none" stroke="#c83535" stroke-width="1.8" stroke-linejoin="round"/>
<text transform="translate(991.96,52.00) scale(0.917,1)" font-family="'Liberation Sans', sans-serif" font-style="italic" font-weight="normal" font-size="23.33" fill="#000">E</text>
<text transform="translate(1005.91,56.80) scale(0.747,1)" font-family="'Liberation Sans', sans-serif" font-style="italic" font-weight="normal" font-size="15.65" fill="#000">1</text>
<text transform="translate(1081.36,54.50) scale(0.917,1)" font-family="'Liberation Sans', sans-serif" font-style="italic" font-weight="normal" font-size="23.33" fill="#000">E</text>
<text transform="translate(1095.67,59.30) scale(0.856,1)" font-family="'Liberation Sans', sans-serif" font-style="italic" font-weight="normal" font-size="15.43" fill="#000">2</text>
<text transform="translate(1090.36,243.50) scale(0.917,1)" font-family="'Liberation Sans', sans-serif" font-style="italic" font-weight="normal" font-size="23.33" fill="#000">E</text>
<text transform="translate(1104.26,248.15) scale(0.885,1)" font-family="'Liberation Sans', sans-serif" font-style="italic" font-weight="normal" font-size="15.21" fill="#000">3</text>
<text transform="translate(1176.16,148.60) scale(0.917,1)" font-family="'Liberation Sans', sans-serif" font-style="italic" font-weight="normal" font-size="23.33" fill="#000">E</text>
<text transform="translate(1190.33,153.40) scale(0.943,1)" font-family="'Liberation Sans', sans-serif" font-style="italic" font-weight="normal" font-size="15.65" fill="#000">4</text>
<text x="1138.00" y="48.50" font-size="17.5" fill="#111" font-family="'Liberation Sans', sans-serif" textLength="104.30" lengthAdjust="spacingAndGlyphs">Zero electric</text>
<text x="1138.00" y="70.00" font-size="17.5" fill="#111" font-family="'Liberation Sans', sans-serif" textLength="90.80" lengthAdjust="spacingAndGlyphs">field inside</text>
<text x="1138.00" y="90.70" font-size="17.5" fill="#111" font-family="'Liberation Sans', sans-serif" textLength="87.00" lengthAdjust="spacingAndGlyphs">electrodes</text>
<line x1="1082.80" y1="106.30" x2="1126.52" y2="84.83" stroke="#000" stroke-width="2.6" stroke-linecap="butt"/>
<polygon points="1133.70,81.30 1127.61,89.31 1123.64,81.23" fill="#000"/>
<line x1="1117.30" y1="107.10" x2="1129.17" y2="97.52" stroke="#000" stroke-width="2.6" stroke-linecap="butt"/>
<polygon points="1135.40,92.50 1131.22,101.65 1125.57,94.65" fill="#000"/>
<text transform="translate(896.22,337.44) scale(1.056,1)" font-family="'Liberation Sans', sans-serif" font-style="normal" font-weight="bold" font-size="25.64" fill="#000">e</text>
<rect x="947.30" y="327.20" width="313.00" height="252.00" fill="none" stroke="#000" stroke-width="2.3"/>
<line x1="942.40" y1="378.10" x2="946.20" y2="378.10" stroke="#000" stroke-width="2.0" stroke-linecap="butt"/>
<line x1="942.40" y1="434.80" x2="946.20" y2="434.80" stroke="#000" stroke-width="2.0" stroke-linecap="butt"/>
<line x1="942.40" y1="491.50" x2="946.20" y2="491.50" stroke="#000" stroke-width="2.0" stroke-linecap="butt"/>
<line x1="942.40" y1="548.20" x2="946.20" y2="548.20" stroke="#000" stroke-width="2.0" stroke-linecap="butt"/>
<line x1="944.60" y1="349.75" x2="946.20" y2="349.75" stroke="#000" stroke-width="2.0" stroke-linecap="butt"/>
<line x1="944.60" y1="406.45" x2="946.20" y2="406.45" stroke="#000" stroke-width="2.0" stroke-linecap="butt"/>
<line x1="944.60" y1="463.15" x2="946.20" y2="463.15" stroke="#000" stroke-width="2.0" stroke-linecap="butt"/>
<line x1="944.60" y1="519.85" x2="946.20" y2="519.85" stroke="#000" stroke-width="2.0" stroke-linecap="butt"/>
<line x1="944.60" y1="576.55" x2="946.20" y2="576.55" stroke="#000" stroke-width="2.0" stroke-linecap="butt"/>
<line x1="974.00" y1="580.30" x2="974.00" y2="583.90" stroke="#000" stroke-width="2.0" stroke-linecap="butt"/>
<line x1="1010.10" y1="580.30" x2="1010.10" y2="583.90" stroke="#000" stroke-width="2.0" stroke-linecap="butt"/>
<line x1="1046.20" y1="580.30" x2="1046.20" y2="583.90" stroke="#000" stroke-width="2.0" stroke-linecap="butt"/>
<line x1="1082.30" y1="580.30" x2="1082.30" y2="583.90" stroke="#000" stroke-width="2.0" stroke-linecap="butt"/>
<line x1="1118.40" y1="580.30" x2="1118.40" y2="583.90" stroke="#000" stroke-width="2.0" stroke-linecap="butt"/>
<line x1="1154.50" y1="580.30" x2="1154.50" y2="583.90" stroke="#000" stroke-width="2.0" stroke-linecap="butt"/>
<line x1="1190.60" y1="580.30" x2="1190.60" y2="583.90" stroke="#000" stroke-width="2.0" stroke-linecap="butt"/>
<line x1="1226.70" y1="580.30" x2="1226.70" y2="583.90" stroke="#000" stroke-width="2.0" stroke-linecap="butt"/>
<line x1="955.95" y1="580.30" x2="955.95" y2="581.90" stroke="#000" stroke-width="2.0" stroke-linecap="butt"/>
<line x1="992.05" y1="580.30" x2="992.05" y2="581.90" stroke="#000" stroke-width="2.0" stroke-linecap="butt"/>
<line x1="1028.15" y1="580.30" x2="1028.15" y2="581.90" stroke="#000" stroke-width="2.0" stroke-linecap="butt"/>
<line x1="1064.25" y1="580.30" x2="1064.25" y2="581.90" stroke="#000" stroke-width="2.0" stroke-linecap="butt"/>
<line x1="1100.35" y1="580.30" x2="1100.35" y2="581.90" stroke="#000" stroke-width="2.0" stroke-linecap="butt"/>
<line x1="1136.45" y1="580.30" x2="1136.45" y2="581.90" stroke="#000" stroke-width="2.0" stroke-linecap="butt"/>
<line x1="1172.55" y1="580.30" x2="1172.55" y2="581.90" stroke="#000" stroke-width="2.0" stroke-linecap="butt"/>
<line x1="1208.65" y1="580.30" x2="1208.65" y2="581.90" stroke="#000" stroke-width="2.0" stroke-linecap="butt"/>
<line x1="1244.75" y1="580.30" x2="1244.75" y2="581.90" stroke="#000" stroke-width="2.0" stroke-linecap="butt"/>
<text x="933.40" y="386.00" font-size="19" fill="#000" font-family="'Liberation Sans', sans-serif" text-anchor="end" textLength="42.30" lengthAdjust="spacingAndGlyphs">4×10</text>
<text x="935.60" y="380.40" font-size="11.5" fill="#000" font-family="'Liberation Sans', sans-serif">5</text>
<text x="933.40" y="442.70" font-size="19" fill="#000" font-family="'Liberation Sans', sans-serif" text-anchor="end" textLength="42.30" lengthAdjust="spacingAndGlyphs">2×10</text>
<text x="935.60" y="437.10" font-size="11.5" fill="#000" font-family="'Liberation Sans', sans-serif">5</text>
<text x="933.40" y="556.10" font-size="19" fill="#000" font-family="'Liberation Sans', sans-serif" text-anchor="end" textLength="48.50" lengthAdjust="spacingAndGlyphs">-2×10</text>
<text x="935.60" y="550.50" font-size="11.5" fill="#000" font-family="'Liberation Sans', sans-serif">5</text>
<text x="936.50" y="498.30" font-size="19" fill="#000" font-family="'Liberation Sans', sans-serif" text-anchor="end">0</text>
<text x="974.00" y="600.30" font-size="17.5" fill="#000" font-family="'Liberation Sans', sans-serif" text-anchor="middle">-6</text>
<text x="1010.10" y="600.30" font-size="17.5" fill="#000" font-family="'Liberation Sans', sans-serif" text-anchor="middle">-4</text>
<text x="1046.20" y="600.30" font-size="17.5" fill="#000" font-family="'Liberation Sans', sans-serif" text-anchor="middle">-2</text>
<text x="1082.30" y="600.30" font-size="17.5" fill="#000" font-family="'Liberation Sans', sans-serif" text-anchor="middle">0</text>
<text x="1118.40" y="600.30" font-size="17.5" fill="#000" font-family="'Liberation Sans', sans-serif" text-anchor="middle">2</text>
<text x="1154.50" y="600.30" font-size="17.5" fill="#000" font-family="'Liberation Sans', sans-serif" text-anchor="middle">4</text>
<text x="1190.60" y="600.30" font-size="17.5" fill="#000" font-family="'Liberation Sans', sans-serif" text-anchor="middle">6</text>
<text x="1226.70" y="600.30" font-size="17.5" fill="#000" font-family="'Liberation Sans', sans-serif" text-anchor="middle">8</text>
<text x="1039.00" y="620.30" font-size="22.5" fill="#000" font-family="'Liberation Sans', sans-serif" textLength="145.20" lengthAdjust="spacingAndGlyphs">Distance (mm)</text>
<text transform="translate(880.50,465.50) rotate(-90)" text-anchor="middle" font-family="'Liberation Sans', sans-serif" font-size="23" textLength="283.60" lengthAdjust="spacingAndGlyphs">Electric field intensity (V/m)</text>
<polyline points="969.40,427.80 1082.00,427.80 1082.90,491.60 1085.20,354.60 1087.60,354.60 1088.80,511.10 1114.70,511.10 1116.20,491.60 1117.20,491.60 1119.90,555.40 1233.80,555.40" fill="none" stroke="#2323b8" stroke-width="1.8" stroke-linejoin="round"/>
<text transform="translate(989.56,419.00) scale(0.917,1)" font-family="'Liberation Sans', sans-serif" font-style="italic" font-weight="normal" font-size="23.33" fill="#000">E</text>
<text transform="translate(1003.51,423.80) scale(0.747,1)" font-family="'Liberation Sans', sans-serif" font-style="italic" font-weight="normal" font-size="15.65" fill="#000">1</text>
<text transform="translate(1080.36,348.50) scale(0.917,1)" font-family="'Liberation Sans', sans-serif" font-style="italic" font-weight="normal" font-size="23.33" fill="#000">E</text>
<text transform="translate(1094.67,353.30) scale(0.856,1)" font-family="'Liberation Sans', sans-serif" font-style="italic" font-weight="normal" font-size="15.43" fill="#000">2</text>
<text transform="translate(1093.36,500.20) scale(0.917,1)" font-family="'Liberation Sans', sans-serif" font-style="italic" font-weight="normal" font-size="23.33" fill="#000">E</text>
<text transform="translate(1107.26,504.85) scale(0.885,1)" font-family="'Liberation Sans', sans-serif" font-style="italic" font-weight="normal" font-size="15.21" fill="#000">3</text>
<text transform="translate(1176.16,546.00) scale(0.917,1)" font-family="'Liberation Sans', sans-serif" font-style="italic" font-weight="normal" font-size="23.33" fill="#000">E</text>
<text transform="translate(1190.33,550.80) scale(0.943,1)" font-family="'Liberation Sans', sans-serif" font-style="italic" font-weight="normal" font-size="15.65" fill="#000">4</text>
<text x="1124.20" y="380.70" font-size="17.5" fill="#111" font-family="'Liberation Sans', sans-serif" textLength="103.50" lengthAdjust="spacingAndGlyphs">Zero electric</text>
<text x="1124.20" y="401.10" font-size="17.5" fill="#111" font-family="'Liberation Sans', sans-serif" textLength="90.30" lengthAdjust="spacingAndGlyphs">field inside</text>
<text x="1124.20" y="422.70" font-size="17.5" fill="#111" font-family="'Liberation Sans', sans-serif" textLength="86.80" lengthAdjust="spacingAndGlyphs">electrodes</text>
<line x1="1083.60" y1="490.70" x2="1123.72" y2="436.82" stroke="#000" stroke-width="2.6" stroke-linecap="butt"/>
<polygon points="1128.50,430.40 1126.73,440.31 1119.52,434.93" fill="#000"/>
<line x1="1117.30" y1="490.70" x2="1139.31" y2="436.12" stroke="#000" stroke-width="2.6" stroke-linecap="butt"/>
<polygon points="1142.30,428.70 1143.11,438.73 1134.76,435.36" fill="#000"/>
<text transform="translate(18.75,638.80) scale(1.099,1)" font-family="'Liberation Sans', sans-serif" font-style="normal" font-weight="bold" font-size="27.59" fill="#000">f</text>
<rect x="73.70" y="631.70" width="314.60" height="253.90" fill="none" stroke="#000" stroke-width="2.5"/>
<line x1="68.80" y1="856.20" x2="72.40" y2="856.20" stroke="#000" stroke-width="2.0" stroke-linecap="butt"/>
<line x1="68.80" y1="817.16" x2="72.40" y2="817.16" stroke="#000" stroke-width="2.0" stroke-linecap="butt"/>
<line x1="68.80" y1="778.12" x2="72.40" y2="778.12" stroke="#000" stroke-width="2.0" stroke-linecap="butt"/>
<line x1="68.80" y1="739.08" x2="72.40" y2="739.08" stroke="#000" stroke-width="2.0" stroke-linecap="butt"/>
<line x1="68.80" y1="700.04" x2="72.40" y2="700.04" stroke="#000" stroke-width="2.0" stroke-linecap="butt"/>
<line x1="68.80" y1="661.00" x2="72.40" y2="661.00" stroke="#000" stroke-width="2.0" stroke-linecap="butt"/>
<line x1="70.90" y1="875.72" x2="72.40" y2="875.72" stroke="#000" stroke-width="2.0" stroke-linecap="butt"/>
<line x1="70.90" y1="836.68" x2="72.40" y2="836.68" stroke="#000" stroke-width="2.0" stroke-linecap="butt"/>
<line x1="70.90" y1="797.64" x2="72.40" y2="797.64" stroke="#000" stroke-width="2.0" stroke-linecap="butt"/>
<line x1="70.90" y1="758.60" x2="72.40" y2="758.60" stroke="#000" stroke-width="2.0" stroke-linecap="butt"/>
<line x1="70.90" y1="719.56" x2="72.40" y2="719.56" stroke="#000" stroke-width="2.0" stroke-linecap="butt"/>
<line x1="70.90" y1="680.52" x2="72.40" y2="680.52" stroke="#000" stroke-width="2.0" stroke-linecap="butt"/>
<line x1="70.90" y1="641.48" x2="72.40" y2="641.48" stroke="#000" stroke-width="2.0" stroke-linecap="butt"/>
<line x1="99.60" y1="886.90" x2="99.60" y2="891.10" stroke="#000" stroke-width="2.0" stroke-linecap="butt"/>
<line x1="152.22" y1="886.90" x2="152.22" y2="891.10" stroke="#000" stroke-width="2.0" stroke-linecap="butt"/>
<line x1="204.84" y1="886.90" x2="204.84" y2="891.10" stroke="#000" stroke-width="2.0" stroke-linecap="butt"/>
<line x1="257.46" y1="886.90" x2="257.46" y2="891.10" stroke="#000" stroke-width="2.0" stroke-linecap="butt"/>
<line x1="310.08" y1="886.90" x2="310.08" y2="891.10" stroke="#000" stroke-width="2.0" stroke-linecap="butt"/>
<line x1="362.70" y1="886.90" x2="362.70" y2="891.10" stroke="#000" stroke-width="2.0" stroke-linecap="butt"/>
<line x1="125.91" y1="886.90" x2="125.91" y2="889.50" stroke="#000" stroke-width="2.0" stroke-linecap="butt"/>
<line x1="178.53" y1="886.90" x2="178.53" y2="889.50" stroke="#000" stroke-width="2.0" stroke-linecap="butt"/>
<line x1="231.15" y1="886.90" x2="231.15" y2="889.50" stroke="#000" stroke-width="2.0" stroke-linecap="butt"/>
<line x1="283.77" y1="886.90" x2="283.77" y2="889.50" stroke="#000" stroke-width="2.0" stroke-linecap="butt"/>
<line x1="336.39" y1="886.90" x2="336.39" y2="889.50" stroke="#000" stroke-width="2.0" stroke-linecap="butt"/>
<line x1="389.01" y1="886.90" x2="389.01" y2="889.50" stroke="#000" stroke-width="2.0" stroke-linecap="butt"/>
<text x="64.40" y="860.50" font-size="18.3" fill="#000" font-family="'Liberation Sans', sans-serif" text-anchor="end" textLength="9.60" lengthAdjust="spacingAndGlyphs">0</text>
<text x="64.40" y="821.46" font-size="18.3" fill="#000" font-family="'Liberation Sans', sans-serif" text-anchor="end" textLength="19.50" lengthAdjust="spacingAndGlyphs">20</text>
<text x="64.40" y="782.42" font-size="18.3" fill="#000" font-family="'Liberation Sans', sans-serif" text-anchor="end" textLength="19.50" lengthAdjust="spacingAndGlyphs">40</text>
<text x="64.40" y="743.38" font-size="18.3" fill="#000" font-family="'Liberation Sans', sans-serif" text-anchor="end" textLength="19.50" lengthAdjust="spacingAndGlyphs">60</text>
<text x="64.40" y="704.34" font-size="18.3" fill="#000" font-family="'Liberation Sans', sans-serif" text-anchor="end" textLength="19.50" lengthAdjust="spacingAndGlyphs">80</text>
<text x="64.40" y="665.30" font-size="18.3" fill="#000" font-family="'Liberation Sans', sans-serif" text-anchor="end" textLength="27.50" lengthAdjust="spacingAndGlyphs">100</text>
<text x="99.60" y="906.40" font-size="17.8" fill="#000" font-family="'Liberation Sans', sans-serif" text-anchor="middle" textLength="31.60" lengthAdjust="spacingAndGlyphs">0.00</text>
<text x="152.22" y="906.40" font-size="17.8" fill="#000" font-family="'Liberation Sans', sans-serif" text-anchor="middle" textLength="31.60" lengthAdjust="spacingAndGlyphs">0.02</text>
<text x="204.84" y="906.40" font-size="17.8" fill="#000" font-family="'Liberation Sans', sans-serif" text-anchor="middle" textLength="31.60" lengthAdjust="spacingAndGlyphs">0.04</text>
<text x="257.46" y="906.40" font-size="17.8" fill="#000" font-family="'Liberation Sans', sans-serif" text-anchor="middle" textLength="31.60" lengthAdjust="spacingAndGlyphs">0.06</text>
<text x="310.08" y="906.40" font-size="17.8" fill="#000" font-family="'Liberation Sans', sans-serif" text-anchor="middle" textLength="31.60" lengthAdjust="spacingAndGlyphs">0.08</text>
<text x="362.70" y="906.40" font-size="17.8" fill="#000" font-family="'Liberation Sans', sans-serif" text-anchor="middle" textLength="31.60" lengthAdjust="spacingAndGlyphs">0.10</text>
<text x="191.30" y="930.70" font-size="22.7" fill="#000" font-family="'Liberation Sans', sans-serif" textLength="79.70" lengthAdjust="spacingAndGlyphs">Time (s)</text>
<text transform="translate(34.20,758.40) rotate(-90)" text-anchor="middle" font-family="'Liberation Sans', sans-serif" font-size="23" textLength="116.20" lengthAdjust="spacingAndGlyphs">Voltage (V)</text>
<path d="M99.60,764.26 L99.89,769.43 L100.18,774.59 L100.48,779.71 L100.77,784.78 L101.06,789.79 L101.35,794.71 L101.65,799.53 L101.94,804.24 L102.23,808.83 L102.52,813.27 L102.82,817.56 L103.11,821.68 L103.40,825.62 L103.69,829.36 L103.98,832.90 L104.28,836.23 L104.57,839.32 L104.86,842.18 L105.15,844.79 L105.45,847.15 L105.74,849.25 L106.03,851.09 L106.32,852.64 L106.62,853.93 L106.91,854.92 L107.20,855.64 L107.49,856.06 L107.79,856.20 L108.08,856.05 L108.37,855.61 L108.66,854.88 L108.95,853.87 L109.25,852.57 L109.54,851.00 L109.83,849.15 L110.12,847.04 L110.42,844.67 L110.71,842.04 L111.00,839.17 L111.29,836.06 L111.59,832.73 L111.88,829.18 L112.17,825.42 L112.46,821.48 L112.75,817.35 L113.05,813.05 L113.34,808.60 L113.63,804.01 L113.92,799.29 L114.22,794.46 L114.51,789.53 L114.80,784.52 L115.09,779.45 L115.39,774.33 L115.68,769.17 L115.97,764.00 L116.26,758.82 L116.56,753.66 L116.85,748.53 L117.14,743.44 L117.43,738.42 L117.72,733.47 L118.02,728.62 L118.31,723.88 L118.60,719.26 L118.89,714.78 L119.19,710.45 L119.48,706.29 L119.77,702.31 L120.06,698.51 L120.36,694.92 L120.65,691.54 L120.94,688.39 L121.23,685.47 L121.52,682.80 L121.82,680.37 L122.11,678.21 L122.40,676.31 L122.69,674.68 L122.99,673.33 L123.28,672.26 L123.57,671.47 L123.86,670.98 L124.16,670.77 L124.45,670.85 L124.74,671.22 L125.03,671.87 L125.33,672.81 L125.62,674.04 L125.91,675.54 L126.20,677.32 L126.49,679.37 L126.79,681.68 L127.08,684.24 L127.37,687.05 L127.66,690.10 L127.96,693.38 L128.25,696.87 L128.54,700.58 L128.83,704.48 L129.13,708.56 L129.42,712.82 L129.71,717.23 L130.00,721.79 L130.29,726.48 L130.59,731.28 L130.88,736.19 L131.17,741.18 L131.46,746.24 L131.76,751.35 L132.05,756.50 L132.34,761.67 L132.63,766.85 L132.93,772.02 L133.22,777.16 L133.51,782.25 L133.80,787.29 L134.10,792.26 L134.39,797.13 L134.68,801.90 L134.97,806.55 L135.26,811.07 L135.56,815.44 L135.85,819.64 L136.14,823.67 L136.43,827.52 L136.73,831.16 L137.02,834.59 L137.31,837.80 L137.60,840.78 L137.90,843.52 L138.19,846.01 L138.48,848.24 L138.77,850.20 L139.06,851.90 L139.36,853.32 L139.65,854.46 L139.94,855.32 L140.23,855.89 L140.53,856.17 L140.82,856.16 L141.11,855.86 L141.40,855.28 L141.70,854.41 L141.99,853.25 L142.28,851.82 L142.57,850.11 L142.87,848.13 L143.16,845.89 L143.45,843.39 L143.74,840.64 L144.03,837.64 L144.33,834.42 L144.62,830.98 L144.91,827.33 L145.20,823.47 L145.50,819.43 L145.79,815.22 L146.08,810.84 L146.37,806.32 L146.67,801.66 L146.96,796.89 L147.25,792.01 L147.54,787.04 L147.83,781.99 L148.13,776.89 L148.42,771.75 L148.71,766.58 L149.00,761.41 L149.30,756.23 L149.59,751.09 L149.88,745.98 L150.17,740.92 L150.47,735.94 L150.76,731.04 L151.05,726.24 L151.34,721.56 L151.64,717.01 L151.93,712.60 L152.22,708.35 L152.51,704.28 L152.80,700.39 L153.10,696.69 L153.39,693.21 L153.68,689.94 L153.97,686.90 L154.27,684.10 L154.56,681.55 L154.85,679.26 L155.14,677.22 L155.44,675.46 L155.73,673.97 L156.02,672.76 L156.31,671.83 L156.60,671.19 L156.90,670.84 L157.19,670.77 L157.48,671.00 L157.77,671.51 L158.07,672.31 L158.36,673.39 L158.65,674.76 L158.94,676.40 L159.24,678.31 L159.53,680.49 L159.82,682.93 L160.11,685.61 L160.41,688.55 L160.70,691.71 L160.99,695.10 L161.28,698.70 L161.57,702.51 L161.87,706.50 L162.16,710.67 L162.45,715.01 L162.74,719.50 L163.04,724.12 L163.33,728.87 L163.62,733.72 L163.91,738.67 L164.21,743.70 L164.50,748.79 L164.79,753.92 L165.08,759.08 L165.38,764.26 L165.67,769.43 L165.96,774.59 L166.25,779.71 L166.54,784.78 L166.84,789.79 L167.13,794.71 L167.42,799.53 L167.71,804.24 L168.01,808.83 L168.30,813.27 L168.59,817.56 L168.88,821.68 L169.18,825.62 L169.47,829.36 L169.76,832.90 L170.05,836.23 L170.34,839.32 L170.64,842.18 L170.93,844.79 L171.22,847.15 L171.51,849.25 L171.81,851.09 L172.10,852.64 L172.39,853.93 L172.68,854.92 L172.98,855.64 L173.27,856.06 L173.56,856.20 L173.85,856.05 L174.14,855.61 L174.44,854.88 L174.73,853.87 L175.02,852.57 L175.31,851.00 L175.61,849.15 L175.90,847.04 L176.19,844.67 L176.48,842.04 L176.78,839.17 L177.07,836.06 L177.36,832.73 L177.65,829.18 L177.95,825.42 L178.24,821.48 L178.53,817.35 L178.82,813.05 L179.11,808.60 L179.41,804.01 L179.70,799.29 L179.99,794.46 L180.28,789.53 L180.58,784.52 L180.87,779.45 L181.16,774.33 L181.45,769.17 L181.75,764.00 L182.04,758.82 L182.33,753.66 L182.62,748.53 L182.92,743.44 L183.21,738.42 L183.50,733.47 L183.79,728.62 L184.08,723.88 L184.38,719.26 L184.67,714.78 L184.96,710.45 L185.25,706.29 L185.55,702.31 L185.84,698.51 L186.13,694.92 L186.42,691.54 L186.72,688.39 L187.01,685.47 L187.30,682.80 L187.59,680.37 L187.88,678.21 L188.18,676.31 L188.47,674.68 L188.76,673.33 L189.05,672.26 L189.35,671.47 L189.64,670.98 L189.93,670.77 L190.22,670.85 L190.52,671.22 L190.81,671.87 L191.10,672.81 L191.39,674.04 L191.69,675.54 L191.98,677.32 L192.27,679.37 L192.56,681.68 L192.85,684.24 L193.15,687.05 L193.44,690.10 L193.73,693.38 L194.02,696.87 L194.32,700.58 L194.61,704.48 L194.90,708.56 L195.19,712.82 L195.49,717.23 L195.78,721.79 L196.07,726.48 L196.36,731.28 L196.65,736.19 L196.95,741.18 L197.24,746.24 L197.53,751.35 L197.82,756.50 L198.12,761.67 L198.41,766.85 L198.70,772.02 L198.99,777.16 L199.29,782.25 L199.58,787.29 L199.87,792.26 L200.16,797.13 L200.45,801.90 L200.75,806.55 L201.04,811.07 L201.33,815.44 L201.62,819.64 L201.92,823.67 L202.21,827.52 L202.50,831.16 L202.79,834.59 L203.09,837.80 L203.38,840.78 L203.67,843.52 L203.96,846.01 L204.26,848.24 L204.55,850.20 L204.84,851.90 L205.13,853.32 L205.42,854.46 L205.72,855.32 L206.01,855.89 L206.30,856.17 L206.59,856.16 L206.89,855.86 L207.18,855.28 L207.47,854.41 L207.76,853.25 L208.06,851.82 L208.35,850.11 L208.64,848.13 L208.93,845.89 L209.22,843.39 L209.52,840.64 L209.81,837.64 L210.10,834.42 L210.39,830.98 L210.69,827.33 L210.98,823.47 L211.27,819.43 L211.56,815.22 L211.86,810.84 L212.15,806.32 L212.44,801.66 L212.73,796.89 L213.03,792.01 L213.32,787.04 L213.61,781.99 L213.90,776.89 L214.19,771.75 L214.49,766.58 L214.78,761.41 L215.07,756.23 L215.36,751.09 L215.66,745.98 L215.95,740.92 L216.24,735.94 L216.53,731.04 L216.83,726.24 L217.12,721.56 L217.41,717.01 L217.70,712.60 L218.00,708.35 L218.29,704.28 L218.58,700.39 L218.87,696.69 L219.16,693.21 L219.46,689.94 L219.75,686.90 L220.04,684.10 L220.33,681.55 L220.63,679.26 L220.92,677.22 L221.21,675.46 L221.50,673.97 L221.80,672.76 L222.09,671.83 L222.38,671.19 L222.67,670.84 L222.96,670.77 L223.26,671.00 L223.55,671.51 L223.84,672.31 L224.13,673.39 L224.43,674.76 L224.72,676.40 L225.01,678.31 L225.30,680.49 L225.60,682.93 L225.89,685.61 L226.18,688.55 L226.47,691.71 L226.76,695.10 L227.06,698.70 L227.35,702.51 L227.64,706.50 L227.93,710.67 L228.23,715.01 L228.52,719.50 L228.81,724.12 L229.10,728.87 L229.40,733.72 L229.69,738.67 L229.98,743.70 L230.27,748.79 L230.57,753.92 L230.86,759.08 L231.15,764.26 L231.44,769.43 L231.73,774.59 L232.03,779.71 L232.32,784.78 L232.61,789.79 L232.90,794.71 L233.20,799.53 L233.49,804.24 L233.78,808.83 L234.07,813.27 L234.37,817.56 L234.66,821.68 L234.95,825.62 L235.24,829.36 L235.53,832.90 L235.83,836.23 L236.12,839.32 L236.41,842.18 L236.70,844.79 L237.00,847.15 L237.29,849.25 L237.58,851.09 L237.87,852.64 L238.17,853.93 L238.46,854.92 L238.75,855.64 L239.04,856.06 L239.34,856.20 L239.63,856.05 L239.92,855.61 L240.21,854.88 L240.50,853.87 L240.80,852.57 L241.09,851.00 L241.38,849.15 L241.67,847.04 L241.97,844.67 L242.26,842.04 L242.55,839.17 L242.84,836.06 L243.14,832.73 L243.43,829.18 L243.72,825.42 L244.01,821.48 L244.31,817.35 L244.60,813.05 L244.89,808.60 L245.18,804.01 L245.47,799.29 L245.77,794.46 L246.06,789.53 L246.35,784.52 L246.64,779.45 L246.94,774.33 L247.23,769.17 L247.52,764.00 L247.81,758.82 L248.11,753.66 L248.40,748.53 L248.69,743.44 L248.98,738.42 L249.27,733.47 L249.57,728.62 L249.86,723.88 L250.15,719.26 L250.44,714.78 L250.74,710.45 L251.03,706.29 L251.32,702.31 L251.61,698.51 L251.91,694.92 L252.20,691.54 L252.49,688.39 L252.78,685.47 L253.07,682.80 L253.37,680.37 L253.66,678.21 L253.95,676.31 L254.24,674.68 L254.54,673.33 L254.83,672.26 L255.12,671.47 L255.41,670.98 L255.71,670.77 L256.00,670.85 L256.29,671.22 L256.58,671.87 L256.88,672.81 L257.17,674.04 L257.46,675.54 L257.75,677.32 L258.04,679.37 L258.34,681.68 L258.63,684.24 L258.92,687.05 L259.21,690.10 L259.51,693.38 L259.80,696.87 L260.09,700.58 L260.38,704.48 L260.68,708.56 L260.97,712.82 L261.26,717.23 L261.55,721.79 L261.85,726.48 L262.14,731.28 L262.43,736.19 L262.72,741.18 L263.01,746.24 L263.31,751.35 L263.60,756.50 L263.89,761.67 L264.18,766.85 L264.48,772.02 L264.77,777.16 L265.06,782.25 L265.35,787.29 L265.65,792.26 L265.94,797.13 L266.23,801.90 L266.52,806.55 L266.81,811.07 L267.11,815.44 L267.40,819.64 L267.69,823.67 L267.98,827.52 L268.28,831.16 L268.57,834.59 L268.86,837.80 L269.15,840.78 L269.45,843.52 L269.74,846.01 L270.03,848.24 L270.32,850.20 L270.62,851.90 L270.91,853.32 L271.20,854.46 L271.49,855.32 L271.78,855.89 L272.08,856.17 L272.37,856.16 L272.66,855.86 L272.95,855.28 L273.25,854.41 L273.54,853.25 L273.83,851.82 L274.12,850.11 L274.42,848.13 L274.71,845.89 L275.00,843.39 L275.29,840.64 L275.58,837.64 L275.88,834.42 L276.17,830.98 L276.46,827.33 L276.75,823.47 L277.05,819.43 L277.34,815.22 L277.63,810.84 L277.92,806.32 L278.22,801.66 L278.51,796.89 L278.80,792.01 L279.09,787.04 L279.38,781.99 L279.68,776.89 L279.97,771.75 L280.26,766.58 L280.55,761.41 L280.85,756.23 L281.14,751.09 L281.43,745.98 L281.72,740.92 L282.02,735.94 L282.31,731.04 L282.60,726.24 L282.89,721.56 L283.19,717.01 L283.48,712.60 L283.77,708.35 L284.06,704.28 L284.35,700.39 L284.65,696.69 L284.94,693.21 L285.23,689.94 L285.52,686.90 L285.82,684.10 L286.11,681.55 L286.40,679.26 L286.69,677.22 L286.99,675.46 L287.28,673.97 L287.57,672.76 L287.86,671.83 L288.15,671.19 L288.45,670.84 L288.74,670.77 L289.03,671.00 L289.32,671.51 L289.62,672.31 L289.91,673.39 L290.20,674.76 L290.49,676.40 L290.79,678.31 L291.08,680.49 L291.37,682.93 L291.66,685.61 L291.96,688.55 L292.25,691.71 L292.54,695.10 L292.83,698.70 L293.12,702.51 L293.42,706.50 L293.71,710.67 L294.00,715.01 L294.29,719.50 L294.59,724.12 L294.88,728.87 L295.17,733.72 L295.46,738.67 L295.76,743.70 L296.05,748.79 L296.34,753.92 L296.63,759.08 L296.92,764.26 L297.22,769.43 L297.51,774.59 L297.80,779.71 L298.09,784.78 L298.39,789.79 L298.68,794.71 L298.97,799.53 L299.26,804.24 L299.56,808.83 L299.85,813.27 L300.14,817.56 L300.43,821.68 L300.73,825.62 L301.02,829.36 L301.31,832.90 L301.60,836.23 L301.89,839.32 L302.19,842.18 L302.48,844.79 L302.77,847.15 L303.06,849.25 L303.36,851.09 L303.65,852.64 L303.94,853.93 L304.23,854.92 L304.53,855.64 L304.82,856.06 L305.11,856.20 L305.40,856.05 L305.69,855.61 L305.99,854.88 L306.28,853.87 L306.57,852.57 L306.86,851.00 L307.16,849.15 L307.45,847.04 L307.74,844.67 L308.03,842.04 L308.33,839.17 L308.62,836.06 L308.91,832.73 L309.20,829.18 L309.50,825.42 L309.79,821.48 L310.08,817.35 L310.37,813.05 L310.66,808.60 L310.96,804.01 L311.25,799.29 L311.54,794.46 L311.83,789.53 L312.13,784.52 L312.42,779.45 L312.71,774.33 L313.00,769.17 L313.30,764.00 L313.59,758.82 L313.88,753.66 L314.17,748.53 L314.47,743.44 L314.76,738.42 L315.05,733.47 L315.34,728.62 L315.63,723.88 L315.93,719.26 L316.22,714.78 L316.51,710.45 L316.80,706.29 L317.10,702.31 L317.39,698.51 L317.68,694.92 L317.97,691.54 L318.27,688.39 L318.56,685.47 L318.85,682.80 L319.14,680.37 L319.43,678.21 L319.73,676.31 L320.02,674.68 L320.31,673.33 L320.60,672.26 L320.90,671.47 L321.19,670.98 L321.48,670.77 L321.77,670.85 L322.07,671.22 L322.36,671.87 L322.65,672.81 L322.94,674.04 L323.24,675.54 L323.53,677.32 L323.82,679.37 L324.11,681.68 L324.40,684.24 L324.70,687.05 L324.99,690.10 L325.28,693.38 L325.57,696.87 L325.87,700.58 L326.16,704.48 L326.45,708.56 L326.74,712.82 L327.04,717.23 L327.33,721.79 L327.62,726.48 L327.91,731.28 L328.20,736.19 L328.50,741.18 L328.79,746.24 L329.08,751.35 L329.37,756.50 L329.67,761.67 L329.96,766.85 L330.25,772.02 L330.54,777.16 L330.84,782.25 L331.13,787.29 L331.42,792.26 L331.71,797.13 L332.00,801.90 L332.30,806.55 L332.59,811.07 L332.88,815.44 L333.17,819.64 L333.47,823.67 L333.76,827.52 L334.05,831.16 L334.34,834.59 L334.64,837.80 L334.93,840.78 L335.22,843.52 L335.51,846.01 L335.81,848.24 L336.10,850.20 L336.39,851.90 L336.68,853.32 L336.97,854.46 L337.27,855.32 L337.56,855.89 L337.85,856.17 L338.14,856.16 L338.44,855.86 L338.73,855.28 L339.02,854.41 L339.31,853.25 L339.61,851.82 L339.90,850.11 L340.19,848.13 L340.48,845.89 L340.77,843.39 L341.07,840.64 L341.36,837.64 L341.65,834.42 L341.94,830.98 L342.24,827.33 L342.53,823.47 L342.82,819.43 L343.11,815.22 L343.41,810.84 L343.70,806.32 L343.99,801.66 L344.28,796.89 L344.58,792.01 L344.87,787.04 L345.16,781.99 L345.45,776.89 L345.74,771.75 L346.04,766.58 L346.33,761.41 L346.62,756.23 L346.91,751.09 L347.21,745.98 L347.50,740.92 L347.79,735.94 L348.08,731.04 L348.38,726.24 L348.67,721.56 L348.96,717.01 L349.25,712.60 L349.54,708.35 L349.84,704.28 L350.13,700.39 L350.42,696.69 L350.71,693.21 L351.01,689.94 L351.30,686.90 L351.59,684.10 L351.88,681.55 L352.18,679.26 L352.47,677.22 L352.76,675.46 L353.05,673.97 L353.35,672.76 L353.64,671.83 L353.93,671.19 L354.22,670.84 L354.51,670.77 L354.81,671.00 L355.10,671.51 L355.39,672.31 L355.68,673.39 L355.98,674.76 L356.27,676.40 L356.56,678.31 L356.85,680.49 L357.15,682.93 L357.44,685.61 L357.73,688.55 L358.02,691.71 L358.31,695.10 L358.61,698.70 L358.90,702.51 L359.19,706.50 L359.48,710.67 L359.78,715.01 L360.07,719.50 L360.36,724.12 L360.65,728.87 L360.95,733.72 L361.24,738.67 L361.53,743.70 L361.82,748.79 L362.12,753.92 L362.41,759.08 L362.70,764.26" fill="none" stroke="#c83232" stroke-width="1.7" stroke-linejoin="round"/>
<text transform="translate(426.90,634.38) scale(1.071,1)" font-family="'Liberation Sans', sans-serif" font-style="normal" font-weight="bold" font-size="25.70" fill="#000">g</text>
<rect x="498.80" y="627.60" width="318.00" height="256.80" fill="none" stroke="#000" stroke-width="2.5"/>
<line x1="493.90" y1="642.10" x2="497.50" y2="642.10" stroke="#000" stroke-width="2.0" stroke-linecap="butt"/>
<line x1="493.90" y1="700.45" x2="497.50" y2="700.45" stroke="#000" stroke-width="2.0" stroke-linecap="butt"/>
<line x1="493.90" y1="758.80" x2="497.50" y2="758.80" stroke="#000" stroke-width="2.0" stroke-linecap="butt"/>
<line x1="493.90" y1="817.15" x2="497.50" y2="817.15" stroke="#000" stroke-width="2.0" stroke-linecap="butt"/>
<line x1="493.90" y1="875.50" x2="497.50" y2="875.50" stroke="#000" stroke-width="2.0" stroke-linecap="butt"/>
<line x1="496.00" y1="671.27" x2="497.50" y2="671.27" stroke="#000" stroke-width="2.0" stroke-linecap="butt"/>
<line x1="496.00" y1="729.62" x2="497.50" y2="729.62" stroke="#000" stroke-width="2.0" stroke-linecap="butt"/>
<line x1="496.00" y1="787.97" x2="497.50" y2="787.97" stroke="#000" stroke-width="2.0" stroke-linecap="butt"/>
<line x1="496.00" y1="846.32" x2="497.50" y2="846.32" stroke="#000" stroke-width="2.0" stroke-linecap="butt"/>
<line x1="524.70" y1="885.70" x2="524.70" y2="889.90" stroke="#000" stroke-width="2.0" stroke-linecap="butt"/>
<line x1="577.40" y1="885.70" x2="577.40" y2="889.90" stroke="#000" stroke-width="2.0" stroke-linecap="butt"/>
<line x1="630.10" y1="885.70" x2="630.10" y2="889.90" stroke="#000" stroke-width="2.0" stroke-linecap="butt"/>
<line x1="682.80" y1="885.70" x2="682.80" y2="889.90" stroke="#000" stroke-width="2.0" stroke-linecap="butt"/>
<line x1="735.50" y1="885.70" x2="735.50" y2="889.90" stroke="#000" stroke-width="2.0" stroke-linecap="butt"/>
<line x1="788.20" y1="885.70" x2="788.20" y2="889.90" stroke="#000" stroke-width="2.0" stroke-linecap="butt"/>
<line x1="551.05" y1="885.70" x2="551.05" y2="888.30" stroke="#000" stroke-width="2.0" stroke-linecap="butt"/>
<line x1="603.75" y1="885.70" x2="603.75" y2="888.30" stroke="#000" stroke-width="2.0" stroke-linecap="butt"/>
<line x1="656.45" y1="885.70" x2="656.45" y2="888.30" stroke="#000" stroke-width="2.0" stroke-linecap="butt"/>
<line x1="709.15" y1="885.70" x2="709.15" y2="888.30" stroke="#000" stroke-width="2.0" stroke-linecap="butt"/>
<line x1="761.85" y1="885.70" x2="761.85" y2="888.30" stroke="#000" stroke-width="2.0" stroke-linecap="butt"/>
<line x1="814.55" y1="885.70" x2="814.55" y2="888.30" stroke="#000" stroke-width="2.0" stroke-linecap="butt"/>
<text x="489.10" y="646.40" font-size="18.3" fill="#000" font-family="'Liberation Sans', sans-serif" text-anchor="end" textLength="32.40" lengthAdjust="spacingAndGlyphs">0.02</text>
<text x="489.10" y="704.75" font-size="18.3" fill="#000" font-family="'Liberation Sans', sans-serif" text-anchor="end" textLength="32.40" lengthAdjust="spacingAndGlyphs">0.01</text>
<text x="489.10" y="763.10" font-size="18.3" fill="#000" font-family="'Liberation Sans', sans-serif" text-anchor="end" textLength="32.40" lengthAdjust="spacingAndGlyphs">0.00</text>
<text x="489.10" y="821.45" font-size="18.3" fill="#000" font-family="'Liberation Sans', sans-serif" text-anchor="end" textLength="37.00" lengthAdjust="spacingAndGlyphs">-0.01</text>
<text x="489.10" y="879.80" font-size="18.3" fill="#000" font-family="'Liberation Sans', sans-serif" text-anchor="end" textLength="37.00" lengthAdjust="spacingAndGlyphs">-0.02</text>
<text x="524.70" y="904.80" font-size="17.8" fill="#000" font-family="'Liberation Sans', sans-serif" text-anchor="middle" textLength="31.60" lengthAdjust="spacingAndGlyphs">0.00</text>
<text x="577.40" y="904.80" font-size="17.8" fill="#000" font-family="'Liberation Sans', sans-serif" text-anchor="middle" textLength="31.60" lengthAdjust="spacingAndGlyphs">0.02</text>
<text x="630.10" y="904.80" font-size="17.8" fill="#000" font-family="'Liberation Sans', sans-serif" text-anchor="middle" textLength="31.60" lengthAdjust="spacingAndGlyphs">0.04</text>
<text x="682.80" y="904.80" font-size="17.8" fill="#000" font-family="'Liberation Sans', sans-serif" text-anchor="middle" textLength="31.60" lengthAdjust="spacingAndGlyphs">0.06</text>
<text x="735.50" y="904.80" font-size="17.8" fill="#000" font-family="'Liberation Sans', sans-serif" text-anchor="middle" textLength="31.60" lengthAdjust="spacingAndGlyphs">0.08</text>
<text x="788.20" y="904.80" font-size="17.8" fill="#000" font-family="'Liberation Sans', sans-serif" text-anchor="middle" textLength="31.60" lengthAdjust="spacingAndGlyphs">0.10</text>
<text x="617.80" y="930.70" font-size="22.7" fill="#000" font-family="'Liberation Sans', sans-serif" textLength="79.70" lengthAdjust="spacingAndGlyphs">Time (s)</text>
<g transform="translate(443.6,842.3) rotate(-90)" font-family="'Liberation Sans', sans-serif" font-size="23"><text x="0" y="0" textLength="148" lengthAdjust="spacingAndGlyphs">Current (A/m</text><text x="148.6" y="-8.5" font-size="14.5">2</text><text x="156.8" y="0">)</text></g>
<path d="M524.70,679.82 L524.99,681.57 L525.29,683.46 L525.58,685.49 L525.87,687.66 L526.16,689.96 L526.46,692.38 L526.75,694.93 L527.04,697.59 L527.34,700.37 L527.63,703.26 L527.92,706.25 L528.21,709.33 L528.51,712.51 L528.80,715.77 L529.09,719.12 L529.38,722.53 L529.68,726.01 L529.97,729.56 L530.26,733.15 L530.56,736.80 L530.85,740.48 L531.14,744.20 L531.43,747.94 L531.73,751.71 L532.02,755.49 L532.31,759.27 L532.61,763.06 L532.90,766.83 L533.19,770.59 L533.48,774.33 L533.78,778.04 L534.07,781.72 L534.36,785.35 L534.65,788.93 L534.95,792.46 L535.24,795.93 L535.53,799.33 L535.83,802.65 L536.12,805.89 L536.41,809.05 L536.70,812.11 L537.00,815.07 L537.29,817.93 L537.58,820.68 L537.88,823.32 L538.17,825.84 L538.46,828.23 L538.75,830.50 L539.05,832.63 L539.34,834.63 L539.63,836.48 L539.92,838.20 L540.22,839.76 L540.51,841.18 L540.80,842.45 L541.10,843.56 L541.39,844.52 L541.68,845.31 L541.97,845.95 L542.27,846.43 L542.56,846.74 L542.85,846.89 L543.15,846.82 L543.44,846.22 L543.73,845.07 L544.02,843.37 L544.32,841.13 L544.61,838.37 L544.90,835.10 L545.19,831.35 L545.49,827.13 L545.78,822.48 L546.07,817.43 L546.37,812.00 L546.66,806.23 L546.95,800.16 L547.24,793.83 L547.54,787.28 L547.83,780.54 L548.12,773.67 L548.42,766.70 L548.71,759.68 L549.00,752.65 L549.29,745.67 L549.59,738.77 L549.88,731.99 L550.17,725.39 L550.46,719.00 L550.76,712.86 L551.05,707.01 L551.34,701.49 L551.64,696.34 L551.93,691.59 L552.22,687.26 L552.51,683.39 L552.81,680.00 L553.10,677.11 L553.39,674.74 L553.69,672.90 L553.98,671.61 L554.27,670.88 L554.56,670.69 L554.86,670.81 L555.15,671.08 L555.44,671.52 L555.73,672.11 L556.03,672.87 L556.32,673.79 L556.61,674.86 L556.91,676.09 L557.20,677.47 L557.49,679.00 L557.78,680.67 L558.08,682.50 L558.37,684.46 L558.66,686.56 L558.96,688.79 L559.25,691.15 L559.54,693.64 L559.83,696.25 L560.13,698.97 L560.42,701.80 L560.71,704.74 L561.00,707.78 L561.30,710.91 L561.59,714.13 L561.88,717.44 L562.18,720.81 L562.47,724.26 L562.76,727.78 L563.05,731.35 L563.35,734.97 L563.64,738.63 L563.93,742.34 L564.23,746.07 L564.52,749.83 L564.81,753.60 L565.10,757.38 L565.40,761.17 L565.69,764.95 L565.98,768.72 L566.27,772.47 L566.57,776.19 L566.86,779.89 L567.15,783.54 L567.45,787.15 L567.74,790.71 L568.03,794.20 L568.32,797.64 L568.62,801.00 L568.91,804.28 L569.20,807.48 L569.50,810.59 L569.79,813.60 L570.08,816.52 L570.37,819.32 L570.67,822.02 L570.96,824.59 L571.25,827.05 L571.54,829.38 L571.84,831.58 L572.13,833.65 L572.42,835.57 L572.72,837.36 L573.01,839.00 L573.30,840.49 L573.59,841.83 L573.89,843.02 L574.18,844.06 L574.47,844.93 L574.77,845.65 L575.06,846.21 L575.35,846.60 L575.64,846.84 L575.94,846.91 L576.23,846.59 L576.52,845.72 L576.81,844.29 L577.11,842.32 L577.40,839.82 L577.69,836.80 L577.99,833.29 L578.28,829.30 L578.57,824.86 L578.86,820.01 L579.16,814.76 L579.45,809.16 L579.74,803.23 L580.04,797.03 L580.33,790.58 L580.62,783.93 L580.91,777.12 L581.21,770.19 L581.50,763.19 L581.79,756.16 L582.08,749.15 L582.38,742.20 L582.67,735.36 L582.96,728.67 L583.26,722.16 L583.55,715.89 L583.84,709.90 L584.13,704.21 L584.43,698.87 L584.72,693.91 L585.01,689.37 L585.31,685.27 L585.60,681.63 L585.89,678.49 L586.18,675.86 L586.48,673.75 L586.77,672.19 L587.06,671.17 L587.35,670.72 L587.65,670.73 L587.94,670.92 L588.23,671.28 L588.53,671.79 L588.82,672.47 L589.11,673.31 L589.40,674.30 L589.70,675.45 L589.99,676.76 L590.28,678.21 L590.58,679.82 L590.87,681.57 L591.16,683.46 L591.45,685.49 L591.75,687.66 L592.04,689.96 L592.33,692.38 L592.62,694.93 L592.92,697.59 L593.21,700.37 L593.50,703.26 L593.80,706.25 L594.09,709.33 L594.38,712.51 L594.67,715.77 L594.97,719.12 L595.26,722.53 L595.55,726.01 L595.85,729.56 L596.14,733.15 L596.43,736.80 L596.72,740.48 L597.02,744.20 L597.31,747.94 L597.60,751.71 L597.89,755.49 L598.19,759.27 L598.48,763.06 L598.77,766.83 L599.07,770.59 L599.36,774.33 L599.65,778.04 L599.94,781.72 L600.24,785.35 L600.53,788.93 L600.82,792.46 L601.12,795.93 L601.41,799.33 L601.70,802.65 L601.99,805.89 L602.29,809.05 L602.58,812.11 L602.87,815.07 L603.16,817.93 L603.46,820.68 L603.75,823.32 L604.04,825.84 L604.34,828.23 L604.63,830.50 L604.92,832.63 L605.21,834.63 L605.51,836.48 L605.80,838.20 L606.09,839.76 L606.38,841.18 L606.68,842.45 L606.97,843.56 L607.26,844.52 L607.56,845.31 L607.85,845.95 L608.14,846.43 L608.43,846.74 L608.73,846.89 L609.02,846.82 L609.31,846.22 L609.61,845.07 L609.90,843.37 L610.19,841.13 L610.48,838.37 L610.78,835.10 L611.07,831.35 L611.36,827.13 L611.66,822.48 L611.95,817.43 L612.24,812.00 L612.53,806.23 L612.83,800.16 L613.12,793.83 L613.41,787.28 L613.70,780.54 L614.00,773.67 L614.29,766.70 L614.58,759.68 L614.88,752.65 L615.17,745.67 L615.46,738.77 L615.75,731.99 L616.05,725.39 L616.34,719.00 L616.63,712.86 L616.93,707.01 L617.22,701.49 L617.51,696.34 L617.80,691.59 L618.10,687.26 L618.39,683.39 L618.68,680.00 L618.97,677.11 L619.27,674.74 L619.56,672.90 L619.85,671.61 L620.15,670.88 L620.44,670.69 L620.73,670.81 L621.02,671.08 L621.32,671.52 L621.61,672.11 L621.90,672.87 L622.20,673.79 L622.49,674.86 L622.78,676.09 L623.07,677.47 L623.37,679.00 L623.66,680.67 L623.95,682.50 L624.24,684.46 L624.54,686.56 L624.83,688.79 L625.12,691.15 L625.42,693.64 L625.71,696.25 L626.00,698.97 L626.29,701.80 L626.59,704.74 L626.88,707.78 L627.17,710.91 L627.47,714.13 L627.76,717.44 L628.05,720.81 L628.34,724.26 L628.64,727.78 L628.93,731.35 L629.22,734.97 L629.51,738.63 L629.81,742.34 L630.10,746.07 L630.39,749.83 L630.69,753.60 L630.98,757.38 L631.27,761.17 L631.56,764.95 L631.86,768.72 L632.15,772.47 L632.44,776.19 L632.74,779.89 L633.03,783.54 L633.32,787.15 L633.61,790.71 L633.91,794.20 L634.20,797.64 L634.49,801.00 L634.78,804.28 L635.08,807.48 L635.37,810.59 L635.66,813.60 L635.96,816.52 L636.25,819.32 L636.54,822.02 L636.83,824.59 L637.13,827.05 L637.42,829.38 L637.71,831.58 L638.01,833.65 L638.30,835.57 L638.59,837.36 L638.88,839.00 L639.18,840.49 L639.47,841.83 L639.76,843.02 L640.05,844.06 L640.35,844.93 L640.64,845.65 L640.93,846.21 L641.23,846.60 L641.52,846.84 L641.81,846.91 L642.10,846.59 L642.40,845.72 L642.69,844.29 L642.98,842.32 L643.28,839.82 L643.57,836.80 L643.86,833.29 L644.15,829.30 L644.45,824.86 L644.74,820.01 L645.03,814.76 L645.32,809.16 L645.62,803.23 L645.91,797.03 L646.20,790.58 L646.50,783.93 L646.79,777.12 L647.08,770.19 L647.37,763.19 L647.67,756.16 L647.96,749.15 L648.25,742.20 L648.55,735.36 L648.84,728.67 L649.13,722.16 L649.42,715.89 L649.72,709.90 L650.01,704.21 L650.30,698.87 L650.59,693.91 L650.89,689.37 L651.18,685.27 L651.47,681.63 L651.77,678.49 L652.06,675.86 L652.35,673.75 L652.64,672.19 L652.94,671.17 L653.23,670.72 L653.52,670.73 L653.82,670.92 L654.11,671.28 L654.40,671.79 L654.69,672.47 L654.99,673.31 L655.28,674.30 L655.57,675.45 L655.86,676.76 L656.16,678.21 L656.45,679.82 L656.74,681.57 L657.04,683.46 L657.33,685.49 L657.62,687.66 L657.91,689.96 L658.21,692.38 L658.50,694.93 L658.79,697.59 L659.09,700.37 L659.38,703.26 L659.67,706.25 L659.96,709.33 L660.26,712.51 L660.55,715.77 L660.84,719.12 L661.13,722.53 L661.43,726.01 L661.72,729.56 L662.01,733.15 L662.31,736.80 L662.60,740.48 L662.89,744.20 L663.18,747.94 L663.48,751.71 L663.77,755.49 L664.06,759.27 L664.36,763.06 L664.65,766.83 L664.94,770.59 L665.23,774.33 L665.53,778.04 L665.82,781.72 L666.11,785.35 L666.40,788.93 L666.70,792.46 L666.99,795.93 L667.28,799.33 L667.58,802.65 L667.87,805.89 L668.16,809.05 L668.45,812.11 L668.75,815.07 L669.04,817.93 L669.33,820.68 L669.62,823.32 L669.92,825.84 L670.21,828.23 L670.50,830.50 L670.80,832.63 L671.09,834.63 L671.38,836.48 L671.67,838.20 L671.97,839.76 L672.26,841.18 L672.55,842.45 L672.85,843.56 L673.14,844.52 L673.43,845.31 L673.72,845.95 L674.02,846.43 L674.31,846.74 L674.60,846.89 L674.89,846.82 L675.19,846.22 L675.48,845.07 L675.77,843.37 L676.07,841.13 L676.36,838.37 L676.65,835.10 L676.94,831.35 L677.24,827.13 L677.53,822.48 L677.82,817.43 L678.12,812.00 L678.41,806.23 L678.70,800.16 L678.99,793.83 L679.29,787.28 L679.58,780.54 L679.87,773.67 L680.17,766.70 L680.46,759.68 L680.75,752.65 L681.04,745.67 L681.34,738.77 L681.63,731.99 L681.92,725.39 L682.21,719.00 L682.51,712.86 L682.80,707.01 L683.09,701.49 L683.39,696.34 L683.68,691.59 L683.97,687.26 L684.26,683.39 L684.56,680.00 L684.85,677.11 L685.14,674.74 L685.44,672.90 L685.73,671.61 L686.02,670.88 L686.31,670.69 L686.61,670.81 L686.90,671.08 L687.19,671.52 L687.48,672.11 L687.78,672.87 L688.07,673.79 L688.36,674.86 L688.66,676.09 L688.95,677.47 L689.24,679.00 L689.53,680.67 L689.83,682.50 L690.12,684.46 L690.41,686.56 L690.71,688.79 L691.00,691.15 L691.29,693.64 L691.58,696.25 L691.88,698.97 L692.17,701.80 L692.46,704.74 L692.75,707.78 L693.05,710.91 L693.34,714.13 L693.63,717.44 L693.93,720.81 L694.22,724.26 L694.51,727.78 L694.80,731.35 L695.10,734.97 L695.39,738.63 L695.68,742.34 L695.98,746.07 L696.27,749.83 L696.56,753.60 L696.85,757.38 L697.15,761.17 L697.44,764.95 L697.73,768.72 L698.02,772.47 L698.32,776.19 L698.61,779.89 L698.90,783.54 L699.20,787.15 L699.49,790.71 L699.78,794.20 L700.07,797.64 L700.37,801.00 L700.66,804.28 L700.95,807.48 L701.25,810.59 L701.54,813.60 L701.83,816.52 L702.12,819.32 L702.42,822.02 L702.71,824.59 L703.00,827.05 L703.29,829.38 L703.59,831.58 L703.88,833.65 L704.17,835.57 L704.47,837.36 L704.76,839.00 L705.05,840.49 L705.34,841.83 L705.64,843.02 L705.93,844.06 L706.22,844.93 L706.52,845.65 L706.81,846.21 L707.10,846.60 L707.39,846.84 L707.69,846.91 L707.98,846.59 L708.27,845.72 L708.56,844.29 L708.86,842.32 L709.15,839.82 L709.44,836.80 L709.74,833.29 L710.03,829.30 L710.32,824.86 L710.61,820.01 L710.91,814.76 L711.20,809.16 L711.49,803.23 L711.79,797.03 L712.08,790.58 L712.37,783.93 L712.66,777.12 L712.96,770.19 L713.25,763.19 L713.54,756.16 L713.83,749.15 L714.13,742.20 L714.42,735.36 L714.71,728.67 L715.01,722.16 L715.30,715.89 L715.59,709.90 L715.88,704.21 L716.18,698.87 L716.47,693.91 L716.76,689.37 L717.06,685.27 L717.35,681.63 L717.64,678.49 L717.93,675.86 L718.23,673.75 L718.52,672.19 L718.81,671.17 L719.10,670.72 L719.40,670.73 L719.69,670.92 L719.98,671.28 L720.28,671.79 L720.57,672.47 L720.86,673.31 L721.15,674.30 L721.45,675.45 L721.74,676.76 L722.03,678.21 L722.33,679.82 L722.62,681.57 L722.91,683.46 L723.20,685.49 L723.50,687.66 L723.79,689.96 L724.08,692.38 L724.37,694.93 L724.67,697.59 L724.96,700.37 L725.25,703.26 L725.55,706.25 L725.84,709.33 L726.13,712.51 L726.42,715.77 L726.72,719.12 L727.01,722.53 L727.30,726.01 L727.60,729.56 L727.89,733.15 L728.18,736.80 L728.47,740.48 L728.77,744.20 L729.06,747.94 L729.35,751.71 L729.64,755.49 L729.94,759.27 L730.23,763.06 L730.52,766.83 L730.82,770.59 L731.11,774.33 L731.40,778.04 L731.69,781.72 L731.99,785.35 L732.28,788.93 L732.57,792.46 L732.87,795.93 L733.16,799.33 L733.45,802.65 L733.74,805.89 L734.04,809.05 L734.33,812.11 L734.62,815.07 L734.91,817.93 L735.21,820.68 L735.50,823.32 L735.79,825.84 L736.09,828.23 L736.38,830.50 L736.67,832.63 L736.96,834.63 L737.26,836.48 L737.55,838.20 L737.84,839.76 L738.13,841.18 L738.43,842.45 L738.72,843.56 L739.01,844.52 L739.31,845.31 L739.60,845.95 L739.89,846.43 L740.18,846.74 L740.48,846.89 L740.77,846.82 L741.06,846.22 L741.36,845.07 L741.65,843.37 L741.94,841.13 L742.23,838.37 L742.53,835.10 L742.82,831.35 L743.11,827.13 L743.41,822.48 L743.70,817.43 L743.99,812.00 L744.28,806.23 L744.58,800.16 L744.87,793.83 L745.16,787.28 L745.45,780.54 L745.75,773.67 L746.04,766.70 L746.33,759.68 L746.63,752.65 L746.92,745.67 L747.21,738.77 L747.50,731.99 L747.80,725.39 L748.09,719.00 L748.38,712.86 L748.68,707.01 L748.97,701.49 L749.26,696.34 L749.55,691.59 L749.85,687.26 L750.14,683.39 L750.43,680.00 L750.72,677.11 L751.02,674.74 L751.31,672.90 L751.60,671.61 L751.90,670.88 L752.19,670.69 L752.48,670.81 L752.77,671.08 L753.07,671.52 L753.36,672.11 L753.65,672.87 L753.95,673.79 L754.24,674.86 L754.53,676.09 L754.82,677.47 L755.12,679.00 L755.41,680.67 L755.70,682.50 L755.99,684.46 L756.29,686.56 L756.58,688.79 L756.87,691.15 L757.17,693.64 L757.46,696.25 L757.75,698.97 L758.04,701.80 L758.34,704.74 L758.63,707.78 L758.92,710.91 L759.22,714.13 L759.51,717.44 L759.80,720.81 L760.09,724.26 L760.39,727.78 L760.68,731.35 L760.97,734.97 L761.26,738.63 L761.56,742.34 L761.85,746.07 L762.14,749.83 L762.44,753.60 L762.73,757.38 L763.02,761.17 L763.31,764.95 L763.61,768.72 L763.90,772.47 L764.19,776.19 L764.49,779.89 L764.78,783.54 L765.07,787.15 L765.36,790.71 L765.66,794.20 L765.95,797.64 L766.24,801.00 L766.53,804.28 L766.83,807.48 L767.12,810.59 L767.41,813.60 L767.71,816.52 L768.00,819.32 L768.29,822.02 L768.58,824.59 L768.88,827.05 L769.17,829.38 L769.46,831.58 L769.76,833.65 L770.05,835.57 L770.34,837.36 L770.63,839.00 L770.93,840.49 L771.22,841.83 L771.51,843.02 L771.80,844.06 L772.10,844.93 L772.39,845.65 L772.68,846.21 L772.98,846.60 L773.27,846.84 L773.56,846.91 L773.85,846.59 L774.15,845.72 L774.44,844.29 L774.73,842.32 L775.03,839.82 L775.32,836.80 L775.61,833.29 L775.90,829.30 L776.20,824.86 L776.49,820.01 L776.78,814.76 L777.07,809.16 L777.37,803.23 L777.66,797.03 L777.95,790.58 L778.25,783.93 L778.54,777.12 L778.83,770.19 L779.12,763.19 L779.42,756.16 L779.71,749.15 L780.00,742.20 L780.30,735.36 L780.59,728.67 L780.88,722.16 L781.17,715.89 L781.47,709.90 L781.76,704.21 L782.05,698.87 L782.34,693.91 L782.64,689.37 L782.93,685.27 L783.22,681.63 L783.52,678.49 L783.81,675.86 L784.10,673.75 L784.39,672.19 L784.69,671.17 L784.98,670.72 L785.27,670.73 L785.57,670.92 L785.86,671.28 L786.15,671.79 L786.44,672.47 L786.74,673.31 L787.03,674.30 L787.32,675.45 L787.61,676.76 L787.91,678.21 L788.20,679.82" fill="none" stroke="#2424b4" stroke-width="1.7" stroke-linejoin="round"/>
<text transform="translate(897.30,633.10) scale(1.023,1)" font-family="'Liberation Sans', sans-serif" font-style="normal" font-weight="bold" font-size="26.48" fill="#000">h</text>
<rect x="950.10" y="629.40" width="313.90" height="253.90" fill="none" stroke="#000" stroke-width="2.5"/>
<line x1="945.20" y1="852.00" x2="948.80" y2="852.00" stroke="#000" stroke-width="2.0" stroke-linecap="butt"/>
<line x1="945.20" y1="813.45" x2="948.80" y2="813.45" stroke="#000" stroke-width="2.0" stroke-linecap="butt"/>
<line x1="945.20" y1="774.90" x2="948.80" y2="774.90" stroke="#000" stroke-width="2.0" stroke-linecap="butt"/>
<line x1="945.20" y1="736.35" x2="948.80" y2="736.35" stroke="#000" stroke-width="2.0" stroke-linecap="butt"/>
<line x1="945.20" y1="697.80" x2="948.80" y2="697.80" stroke="#000" stroke-width="2.0" stroke-linecap="butt"/>
<line x1="945.20" y1="659.25" x2="948.80" y2="659.25" stroke="#000" stroke-width="2.0" stroke-linecap="butt"/>
<line x1="947.30" y1="871.27" x2="948.80" y2="871.27" stroke="#000" stroke-width="2.0" stroke-linecap="butt"/>
<line x1="947.30" y1="832.73" x2="948.80" y2="832.73" stroke="#000" stroke-width="2.0" stroke-linecap="butt"/>
<line x1="947.30" y1="794.17" x2="948.80" y2="794.17" stroke="#000" stroke-width="2.0" stroke-linecap="butt"/>
<line x1="947.30" y1="755.62" x2="948.80" y2="755.62" stroke="#000" stroke-width="2.0" stroke-linecap="butt"/>
<line x1="947.30" y1="717.08" x2="948.80" y2="717.08" stroke="#000" stroke-width="2.0" stroke-linecap="butt"/>
<line x1="947.30" y1="678.52" x2="948.80" y2="678.52" stroke="#000" stroke-width="2.0" stroke-linecap="butt"/>
<line x1="947.30" y1="639.98" x2="948.80" y2="639.98" stroke="#000" stroke-width="2.0" stroke-linecap="butt"/>
<line x1="975.60" y1="884.60" x2="975.60" y2="888.80" stroke="#000" stroke-width="2.0" stroke-linecap="butt"/>
<line x1="1028.16" y1="884.60" x2="1028.16" y2="888.80" stroke="#000" stroke-width="2.0" stroke-linecap="butt"/>
<line x1="1080.72" y1="884.60" x2="1080.72" y2="888.80" stroke="#000" stroke-width="2.0" stroke-linecap="butt"/>
<line x1="1133.28" y1="884.60" x2="1133.28" y2="888.80" stroke="#000" stroke-width="2.0" stroke-linecap="butt"/>
<line x1="1185.84" y1="884.60" x2="1185.84" y2="888.80" stroke="#000" stroke-width="2.0" stroke-linecap="butt"/>
<line x1="1238.40" y1="884.60" x2="1238.40" y2="888.80" stroke="#000" stroke-width="2.0" stroke-linecap="butt"/>
<line x1="1001.88" y1="884.60" x2="1001.88" y2="887.20" stroke="#000" stroke-width="2.0" stroke-linecap="butt"/>
<line x1="1054.44" y1="884.60" x2="1054.44" y2="887.20" stroke="#000" stroke-width="2.0" stroke-linecap="butt"/>
<line x1="1107.00" y1="884.60" x2="1107.00" y2="887.20" stroke="#000" stroke-width="2.0" stroke-linecap="butt"/>
<line x1="1159.56" y1="884.60" x2="1159.56" y2="887.20" stroke="#000" stroke-width="2.0" stroke-linecap="butt"/>
<line x1="1212.12" y1="884.60" x2="1212.12" y2="887.20" stroke="#000" stroke-width="2.0" stroke-linecap="butt"/>
<line x1="1264.68" y1="884.60" x2="1264.68" y2="887.20" stroke="#000" stroke-width="2.0" stroke-linecap="butt"/>
<text x="929.70" y="821.25" font-size="19" fill="#000" font-family="'Liberation Sans', sans-serif" text-anchor="end" textLength="42.30" lengthAdjust="spacingAndGlyphs">1×10</text>
<text x="930.60" y="815.95" font-size="13" fill="#000" font-family="'Liberation Sans', sans-serif">-5</text>
<text x="929.70" y="782.70" font-size="19" fill="#000" font-family="'Liberation Sans', sans-serif" text-anchor="end" textLength="42.30" lengthAdjust="spacingAndGlyphs">2×10</text>
<text x="930.60" y="777.40" font-size="13" fill="#000" font-family="'Liberation Sans', sans-serif">-5</text>
<text x="929.70" y="744.15" font-size="19" fill="#000" font-family="'Liberation Sans', sans-serif" text-anchor="end" textLength="42.30" lengthAdjust="spacingAndGlyphs">3×10</text>
<text x="930.60" y="738.85" font-size="13" fill="#000" font-family="'Liberation Sans', sans-serif">-5</text>
<text x="929.70" y="705.60" font-size="19" fill="#000" font-family="'Liberation Sans', sans-serif" text-anchor="end" textLength="42.30" lengthAdjust="spacingAndGlyphs">4×10</text>
<text x="930.60" y="700.30" font-size="13" fill="#000" font-family="'Liberation Sans', sans-serif">-5</text>
<text x="929.70" y="667.05" font-size="19" fill="#000" font-family="'Liberation Sans', sans-serif" text-anchor="end" textLength="42.30" lengthAdjust="spacingAndGlyphs">5×10</text>
<text x="930.60" y="661.75" font-size="13" fill="#000" font-family="'Liberation Sans', sans-serif">-5</text>
<text x="934.00" y="856.50" font-size="19" fill="#000" font-family="'Liberation Sans', sans-serif" text-anchor="end">0</text>
<text x="975.60" y="903.80" font-size="17.8" fill="#000" font-family="'Liberation Sans', sans-serif" text-anchor="middle" textLength="31.60" lengthAdjust="spacingAndGlyphs">0.00</text>
<text x="1028.16" y="903.80" font-size="17.8" fill="#000" font-family="'Liberation Sans', sans-serif" text-anchor="middle" textLength="31.60" lengthAdjust="spacingAndGlyphs">0.02</text>
<text x="1080.72" y="903.80" font-size="17.8" fill="#000" font-family="'Liberation Sans', sans-serif" text-anchor="middle" textLength="31.60" lengthAdjust="spacingAndGlyphs">0.04</text>
<text x="1133.28" y="903.80" font-size="17.8" fill="#000" font-family="'Liberation Sans', sans-serif" text-anchor="middle" textLength="31.60" lengthAdjust="spacingAndGlyphs">0.06</text>
<text x="1185.84" y="903.80" font-size="17.8" fill="#000" font-family="'Liberation Sans', sans-serif" text-anchor="middle" textLength="31.60" lengthAdjust="spacingAndGlyphs">0.08</text>
<text x="1238.40" y="903.80" font-size="17.8" fill="#000" font-family="'Liberation Sans', sans-serif" text-anchor="middle" textLength="31.60" lengthAdjust="spacingAndGlyphs">0.10</text>
<text x="1068.30" y="930.70" font-size="22.7" fill="#000" font-family="'Liberation Sans', sans-serif" textLength="79.70" lengthAdjust="spacingAndGlyphs">Time (s)</text>
<g transform="translate(874.3,889.3) rotate(-90)" font-family="'Liberation Sans', sans-serif" font-size="23"><text x="0" y="0" textLength="243.4" lengthAdjust="spacingAndGlyphs">Transferred charge (C/m</text><text x="244" y="-8.5" font-size="14.5">2</text><text x="252.2" y="0">)</text></g>
<path d="M975.60,735.44 L975.89,730.98 L976.18,726.60 L976.48,722.32 L976.77,718.14 L977.06,714.08 L977.35,710.14 L977.64,706.33 L977.94,702.66 L978.23,699.14 L978.52,695.77 L978.81,692.56 L979.10,689.51 L979.40,686.64 L979.69,683.94 L979.98,681.43 L980.27,679.10 L980.56,676.97 L980.86,675.04 L981.15,673.30 L981.44,671.77 L981.73,670.45 L982.02,669.33 L982.32,668.43 L982.61,667.74 L982.90,667.27 L983.19,667.01 L983.48,666.97 L983.78,667.14 L984.07,667.54 L984.36,668.14 L984.65,668.96 L984.94,669.99 L985.24,671.24 L985.53,672.69 L985.82,674.35 L986.11,676.20 L986.40,678.26 L986.70,680.51 L986.99,682.95 L987.28,685.58 L987.57,688.38 L987.86,691.36 L988.16,694.51 L988.45,697.82 L988.74,701.29 L989.03,704.90 L989.32,708.66 L989.62,712.55 L989.91,716.56 L990.20,720.70 L990.49,724.94 L990.78,729.28 L991.08,733.71 L991.37,738.23 L991.66,742.82 L991.95,747.47 L992.24,752.17 L992.54,756.91 L992.83,761.69 L993.12,766.49 L993.41,771.29 L993.70,776.10 L994.00,780.89 L994.29,785.66 L994.58,790.40 L994.87,795.08 L995.16,799.71 L995.46,804.26 L995.75,808.73 L996.04,813.09 L996.33,817.34 L996.62,821.47 L996.92,825.45 L997.21,829.27 L997.50,832.91 L997.79,836.35 L998.08,839.58 L998.38,842.56 L998.67,845.26 L998.96,847.65 L999.25,849.66 L999.54,851.21 L999.84,851.99 L1000.13,851.06 L1000.42,849.45 L1000.71,847.39 L1001.00,844.97 L1001.30,842.23 L1001.59,839.22 L1001.88,835.97 L1002.17,832.50 L1002.46,828.84 L1002.76,825.00 L1003.05,821.00 L1003.34,816.86 L1003.63,812.60 L1003.92,808.22 L1004.22,803.74 L1004.51,799.18 L1004.80,794.55 L1005.09,789.86 L1005.38,785.12 L1005.68,780.34 L1005.97,775.55 L1006.26,770.74 L1006.55,765.94 L1006.84,761.14 L1007.14,756.37 L1007.43,751.63 L1007.72,746.93 L1008.01,742.29 L1008.30,737.71 L1008.60,733.20 L1008.89,728.78 L1009.18,724.45 L1009.47,720.22 L1009.76,716.10 L1010.06,712.10 L1010.35,708.22 L1010.64,704.48 L1010.93,700.88 L1011.22,697.44 L1011.52,694.14 L1011.81,691.01 L1012.10,688.05 L1012.39,685.27 L1012.68,682.66 L1012.98,680.24 L1013.27,678.01 L1013.56,675.98 L1013.85,674.14 L1014.14,672.51 L1014.44,671.08 L1014.73,669.87 L1015.02,668.86 L1015.31,668.06 L1015.60,667.48 L1015.90,667.11 L1016.19,666.96 L1016.48,667.03 L1016.77,667.31 L1017.06,667.81 L1017.36,668.53 L1017.65,669.45 L1017.94,670.59 L1018.23,671.94 L1018.52,673.49 L1018.82,675.25 L1019.11,677.21 L1019.40,679.36 L1019.69,681.71 L1019.98,684.24 L1020.28,686.96 L1020.57,689.85 L1020.86,692.92 L1021.15,696.15 L1021.44,699.54 L1021.74,703.08 L1022.03,706.76 L1022.32,710.59 L1022.61,714.54 L1022.90,718.62 L1023.20,722.80 L1023.49,727.10 L1023.78,731.49 L1024.07,735.96 L1024.36,740.51 L1024.66,745.13 L1024.95,749.81 L1025.24,754.54 L1025.53,759.30 L1025.82,764.09 L1026.12,768.89 L1026.41,773.70 L1026.70,778.50 L1026.99,783.28 L1027.28,788.04 L1027.58,792.75 L1027.87,797.40 L1028.16,801.99 L1028.45,806.50 L1028.74,810.92 L1029.04,815.23 L1029.33,819.42 L1029.62,823.48 L1029.91,827.38 L1030.20,831.11 L1030.50,834.66 L1030.79,837.99 L1031.08,841.10 L1031.37,843.95 L1031.66,846.50 L1031.96,848.71 L1032.25,850.50 L1032.54,851.75 L1032.83,851.64 L1033.12,850.32 L1033.42,848.47 L1033.71,846.22 L1034.00,843.63 L1034.29,840.76 L1034.58,837.62 L1034.88,834.26 L1035.17,830.69 L1035.46,826.94 L1035.75,823.02 L1036.04,818.95 L1036.34,814.74 L1036.63,810.42 L1036.92,805.99 L1037.21,801.47 L1037.50,796.87 L1037.80,792.21 L1038.09,787.49 L1038.38,782.73 L1038.67,777.95 L1038.96,773.15 L1039.26,768.34 L1039.55,763.54 L1039.84,758.75 L1040.13,753.99 L1040.42,749.27 L1040.72,744.60 L1041.01,739.99 L1041.30,735.44 L1041.59,730.98 L1041.88,726.60 L1042.18,722.32 L1042.47,718.14 L1042.76,714.08 L1043.05,710.14 L1043.34,706.33 L1043.64,702.66 L1043.93,699.14 L1044.22,695.77 L1044.51,692.56 L1044.80,689.51 L1045.10,686.64 L1045.39,683.94 L1045.68,681.43 L1045.97,679.10 L1046.26,676.97 L1046.56,675.04 L1046.85,673.30 L1047.14,671.77 L1047.43,670.45 L1047.72,669.33 L1048.02,668.43 L1048.31,667.74 L1048.60,667.27 L1048.89,667.01 L1049.18,666.97 L1049.48,667.14 L1049.77,667.54 L1050.06,668.14 L1050.35,668.96 L1050.64,669.99 L1050.94,671.24 L1051.23,672.69 L1051.52,674.35 L1051.81,676.20 L1052.10,678.26 L1052.40,680.51 L1052.69,682.95 L1052.98,685.58 L1053.27,688.38 L1053.56,691.36 L1053.86,694.51 L1054.15,697.82 L1054.44,701.29 L1054.73,704.90 L1055.02,708.66 L1055.32,712.55 L1055.61,716.56 L1055.90,720.70 L1056.19,724.94 L1056.48,729.28 L1056.78,733.71 L1057.07,738.23 L1057.36,742.82 L1057.65,747.47 L1057.94,752.17 L1058.24,756.91 L1058.53,761.69 L1058.82,766.49 L1059.11,771.29 L1059.40,776.10 L1059.70,780.89 L1059.99,785.66 L1060.28,790.40 L1060.57,795.08 L1060.86,799.71 L1061.16,804.26 L1061.45,808.73 L1061.74,813.09 L1062.03,817.34 L1062.32,821.47 L1062.62,825.45 L1062.91,829.27 L1063.20,832.91 L1063.49,836.35 L1063.78,839.58 L1064.08,842.56 L1064.37,845.26 L1064.66,847.65 L1064.95,849.66 L1065.24,851.21 L1065.54,851.99 L1065.83,851.06 L1066.12,849.45 L1066.41,847.39 L1066.70,844.97 L1067.00,842.23 L1067.29,839.22 L1067.58,835.97 L1067.87,832.50 L1068.16,828.84 L1068.46,825.00 L1068.75,821.00 L1069.04,816.86 L1069.33,812.60 L1069.62,808.22 L1069.92,803.74 L1070.21,799.18 L1070.50,794.55 L1070.79,789.86 L1071.08,785.12 L1071.38,780.34 L1071.67,775.55 L1071.96,770.74 L1072.25,765.94 L1072.54,761.14 L1072.84,756.37 L1073.13,751.63 L1073.42,746.93 L1073.71,742.29 L1074.00,737.71 L1074.30,733.20 L1074.59,728.78 L1074.88,724.45 L1075.17,720.22 L1075.46,716.10 L1075.76,712.10 L1076.05,708.22 L1076.34,704.48 L1076.63,700.88 L1076.92,697.44 L1077.22,694.14 L1077.51,691.01 L1077.80,688.05 L1078.09,685.27 L1078.38,682.66 L1078.68,680.24 L1078.97,678.01 L1079.26,675.98 L1079.55,674.14 L1079.84,672.51 L1080.14,671.08 L1080.43,669.87 L1080.72,668.86 L1081.01,668.06 L1081.30,667.48 L1081.60,667.11 L1081.89,666.96 L1082.18,667.03 L1082.47,667.31 L1082.76,667.81 L1083.06,668.53 L1083.35,669.45 L1083.64,670.59 L1083.93,671.94 L1084.22,673.49 L1084.52,675.25 L1084.81,677.21 L1085.10,679.36 L1085.39,681.71 L1085.68,684.24 L1085.98,686.96 L1086.27,689.85 L1086.56,692.92 L1086.85,696.15 L1087.14,699.54 L1087.44,703.08 L1087.73,706.76 L1088.02,710.59 L1088.31,714.54 L1088.60,718.62 L1088.90,722.80 L1089.19,727.10 L1089.48,731.49 L1089.77,735.96 L1090.06,740.51 L1090.36,745.13 L1090.65,749.81 L1090.94,754.54 L1091.23,759.30 L1091.52,764.09 L1091.82,768.89 L1092.11,773.70 L1092.40,778.50 L1092.69,783.28 L1092.98,788.04 L1093.28,792.75 L1093.57,797.40 L1093.86,801.99 L1094.15,806.50 L1094.44,810.92 L1094.74,815.23 L1095.03,819.42 L1095.32,823.48 L1095.61,827.38 L1095.90,831.11 L1096.20,834.66 L1096.49,837.99 L1096.78,841.10 L1097.07,843.95 L1097.36,846.50 L1097.66,848.71 L1097.95,850.50 L1098.24,851.75 L1098.53,851.64 L1098.82,850.32 L1099.12,848.47 L1099.41,846.22 L1099.70,843.63 L1099.99,840.76 L1100.28,837.62 L1100.58,834.26 L1100.87,830.69 L1101.16,826.94 L1101.45,823.02 L1101.74,818.95 L1102.04,814.74 L1102.33,810.42 L1102.62,805.99 L1102.91,801.47 L1103.20,796.87 L1103.50,792.21 L1103.79,787.49 L1104.08,782.73 L1104.37,777.95 L1104.66,773.15 L1104.96,768.34 L1105.25,763.54 L1105.54,758.75 L1105.83,753.99 L1106.12,749.27 L1106.42,744.60 L1106.71,739.99 L1107.00,735.44 L1107.29,730.98 L1107.58,726.60 L1107.88,722.32 L1108.17,718.14 L1108.46,714.08 L1108.75,710.14 L1109.04,706.33 L1109.34,702.66 L1109.63,699.14 L1109.92,695.77 L1110.21,692.56 L1110.50,689.51 L1110.80,686.64 L1111.09,683.94 L1111.38,681.43 L1111.67,679.10 L1111.96,676.97 L1112.26,675.04 L1112.55,673.30 L1112.84,671.77 L1113.13,670.45 L1113.42,669.33 L1113.72,668.43 L1114.01,667.74 L1114.30,667.27 L1114.59,667.01 L1114.88,666.97 L1115.18,667.14 L1115.47,667.54 L1115.76,668.14 L1116.05,668.96 L1116.34,669.99 L1116.64,671.24 L1116.93,672.69 L1117.22,674.35 L1117.51,676.20 L1117.80,678.26 L1118.10,680.51 L1118.39,682.95 L1118.68,685.58 L1118.97,688.38 L1119.26,691.36 L1119.56,694.51 L1119.85,697.82 L1120.14,701.29 L1120.43,704.90 L1120.72,708.66 L1121.02,712.55 L1121.31,716.56 L1121.60,720.70 L1121.89,724.94 L1122.18,729.28 L1122.48,733.71 L1122.77,738.23 L1123.06,742.82 L1123.35,747.47 L1123.64,752.17 L1123.94,756.91 L1124.23,761.69 L1124.52,766.49 L1124.81,771.29 L1125.10,776.10 L1125.40,780.89 L1125.69,785.66 L1125.98,790.40 L1126.27,795.08 L1126.56,799.71 L1126.86,804.26 L1127.15,808.73 L1127.44,813.09 L1127.73,817.34 L1128.02,821.47 L1128.32,825.45 L1128.61,829.27 L1128.90,832.91 L1129.19,836.35 L1129.48,839.58 L1129.78,842.56 L1130.07,845.26 L1130.36,847.65 L1130.65,849.66 L1130.94,851.21 L1131.24,851.99 L1131.53,851.06 L1131.82,849.45 L1132.11,847.39 L1132.40,844.97 L1132.70,842.23 L1132.99,839.22 L1133.28,835.97 L1133.57,832.50 L1133.86,828.84 L1134.16,825.00 L1134.45,821.00 L1134.74,816.86 L1135.03,812.60 L1135.32,808.22 L1135.62,803.74 L1135.91,799.18 L1136.20,794.55 L1136.49,789.86 L1136.78,785.12 L1137.08,780.34 L1137.37,775.55 L1137.66,770.74 L1137.95,765.94 L1138.24,761.14 L1138.54,756.37 L1138.83,751.63 L1139.12,746.93 L1139.41,742.29 L1139.70,737.71 L1140.00,733.20 L1140.29,728.78 L1140.58,724.45 L1140.87,720.22 L1141.16,716.10 L1141.46,712.10 L1141.75,708.22 L1142.04,704.48 L1142.33,700.88 L1142.62,697.44 L1142.92,694.14 L1143.21,691.01 L1143.50,688.05 L1143.79,685.27 L1144.08,682.66 L1144.38,680.24 L1144.67,678.01 L1144.96,675.98 L1145.25,674.14 L1145.54,672.51 L1145.84,671.08 L1146.13,669.87 L1146.42,668.86 L1146.71,668.06 L1147.00,667.48 L1147.30,667.11 L1147.59,666.96 L1147.88,667.03 L1148.17,667.31 L1148.46,667.81 L1148.76,668.53 L1149.05,669.45 L1149.34,670.59 L1149.63,671.94 L1149.92,673.49 L1150.22,675.25 L1150.51,677.21 L1150.80,679.36 L1151.09,681.71 L1151.38,684.24 L1151.68,686.96 L1151.97,689.85 L1152.26,692.92 L1152.55,696.15 L1152.84,699.54 L1153.14,703.08 L1153.43,706.76 L1153.72,710.59 L1154.01,714.54 L1154.30,718.62 L1154.60,722.80 L1154.89,727.10 L1155.18,731.49 L1155.47,735.96 L1155.76,740.51 L1156.06,745.13 L1156.35,749.81 L1156.64,754.54 L1156.93,759.30 L1157.22,764.09 L1157.52,768.89 L1157.81,773.70 L1158.10,778.50 L1158.39,783.28 L1158.68,788.04 L1158.98,792.75 L1159.27,797.40 L1159.56,801.99 L1159.85,806.50 L1160.14,810.92 L1160.44,815.23 L1160.73,819.42 L1161.02,823.48 L1161.31,827.38 L1161.60,831.11 L1161.90,834.66 L1162.19,837.99 L1162.48,841.10 L1162.77,843.95 L1163.06,846.50 L1163.36,848.71 L1163.65,850.50 L1163.94,851.75 L1164.23,851.64 L1164.52,850.32 L1164.82,848.47 L1165.11,846.22 L1165.40,843.63 L1165.69,840.76 L1165.98,837.62 L1166.28,834.26 L1166.57,830.69 L1166.86,826.94 L1167.15,823.02 L1167.44,818.95 L1167.74,814.74 L1168.03,810.42 L1168.32,805.99 L1168.61,801.47 L1168.90,796.87 L1169.20,792.21 L1169.49,787.49 L1169.78,782.73 L1170.07,777.95 L1170.36,773.15 L1170.66,768.34 L1170.95,763.54 L1171.24,758.75 L1171.53,753.99 L1171.82,749.27 L1172.12,744.60 L1172.41,739.99 L1172.70,735.44 L1172.99,730.98 L1173.28,726.60 L1173.58,722.32 L1173.87,718.14 L1174.16,714.08 L1174.45,710.14 L1174.74,706.33 L1175.04,702.66 L1175.33,699.14 L1175.62,695.77 L1175.91,692.56 L1176.20,689.51 L1176.50,686.64 L1176.79,683.94 L1177.08,681.43 L1177.37,679.10 L1177.66,676.97 L1177.96,675.04 L1178.25,673.30 L1178.54,671.77 L1178.83,670.45 L1179.12,669.33 L1179.42,668.43 L1179.71,667.74 L1180.00,667.27 L1180.29,667.01 L1180.58,666.97 L1180.88,667.14 L1181.17,667.54 L1181.46,668.14 L1181.75,668.96 L1182.04,669.99 L1182.34,671.24 L1182.63,672.69 L1182.92,674.35 L1183.21,676.20 L1183.50,678.26 L1183.80,680.51 L1184.09,682.95 L1184.38,685.58 L1184.67,688.38 L1184.96,691.36 L1185.26,694.51 L1185.55,697.82 L1185.84,701.29 L1186.13,704.90 L1186.42,708.66 L1186.72,712.55 L1187.01,716.56 L1187.30,720.70 L1187.59,724.94 L1187.88,729.28 L1188.18,733.71 L1188.47,738.23 L1188.76,742.82 L1189.05,747.47 L1189.34,752.17 L1189.64,756.91 L1189.93,761.69 L1190.22,766.49 L1190.51,771.29 L1190.80,776.10 L1191.10,780.89 L1191.39,785.66 L1191.68,790.40 L1191.97,795.08 L1192.26,799.71 L1192.56,804.26 L1192.85,808.73 L1193.14,813.09 L1193.43,817.34 L1193.72,821.47 L1194.02,825.45 L1194.31,829.27 L1194.60,832.91 L1194.89,836.35 L1195.18,839.58 L1195.48,842.56 L1195.77,845.26 L1196.06,847.65 L1196.35,849.66 L1196.64,851.21 L1196.94,851.99 L1197.23,851.06 L1197.52,849.45 L1197.81,847.39 L1198.10,844.97 L1198.40,842.23 L1198.69,839.22 L1198.98,835.97 L1199.27,832.50 L1199.56,828.84 L1199.86,825.00 L1200.15,821.00 L1200.44,816.86 L1200.73,812.60 L1201.02,808.22 L1201.32,803.74 L1201.61,799.18 L1201.90,794.55 L1202.19,789.86 L1202.48,785.12 L1202.78,780.34 L1203.07,775.55 L1203.36,770.74 L1203.65,765.94 L1203.94,761.14 L1204.24,756.37 L1204.53,751.63 L1204.82,746.93 L1205.11,742.29 L1205.40,737.71 L1205.70,733.20 L1205.99,728.78 L1206.28,724.45 L1206.57,720.22 L1206.86,716.10 L1207.16,712.10 L1207.45,708.22 L1207.74,704.48 L1208.03,700.88 L1208.32,697.44 L1208.62,694.14 L1208.91,691.01 L1209.20,688.05 L1209.49,685.27 L1209.78,682.66 L1210.08,680.24 L1210.37,678.01 L1210.66,675.98 L1210.95,674.14 L1211.24,672.51 L1211.54,671.08 L1211.83,669.87 L1212.12,668.86 L1212.41,668.06 L1212.70,667.48 L1213.00,667.11 L1213.29,666.96 L1213.58,667.03 L1213.87,667.31 L1214.16,667.81 L1214.46,668.53 L1214.75,669.45 L1215.04,670.59 L1215.33,671.94 L1215.62,673.49 L1215.92,675.25 L1216.21,677.21 L1216.50,679.36 L1216.79,681.71 L1217.08,684.24 L1217.38,686.96 L1217.67,689.85 L1217.96,692.92 L1218.25,696.15 L1218.54,699.54 L1218.84,703.08 L1219.13,706.76 L1219.42,710.59 L1219.71,714.54 L1220.00,718.62 L1220.30,722.80 L1220.59,727.10 L1220.88,731.49 L1221.17,735.96 L1221.46,740.51 L1221.76,745.13 L1222.05,749.81 L1222.34,754.54 L1222.63,759.30 L1222.92,764.09 L1223.22,768.89 L1223.51,773.70 L1223.80,778.50 L1224.09,783.28 L1224.38,788.04 L1224.68,792.75 L1224.97,797.40 L1225.26,801.99 L1225.55,806.50 L1225.84,810.92 L1226.14,815.23 L1226.43,819.42 L1226.72,823.48 L1227.01,827.38 L1227.30,831.11 L1227.60,834.66 L1227.89,837.99 L1228.18,841.10 L1228.47,843.95 L1228.76,846.50 L1229.06,848.71 L1229.35,850.50 L1229.64,851.75 L1229.93,851.64 L1230.22,850.32 L1230.52,848.47 L1230.81,846.22 L1231.10,843.63 L1231.39,840.76 L1231.68,837.62 L1231.98,834.26 L1232.27,830.69 L1232.56,826.94 L1232.85,823.02 L1233.14,818.95 L1233.44,814.74 L1233.73,810.42 L1234.02,805.99 L1234.31,801.47 L1234.60,796.87 L1234.90,792.21 L1235.19,787.49 L1235.48,782.73 L1235.77,777.95 L1236.06,773.15 L1236.36,768.34 L1236.65,763.54 L1236.94,758.75 L1237.23,753.99 L1237.52,749.27 L1237.82,744.60 L1238.11,739.99 L1238.40,735.44" fill="none" stroke="#1f6e1f" stroke-width="1.7" stroke-linejoin="round"/>
</svg></body></html>
